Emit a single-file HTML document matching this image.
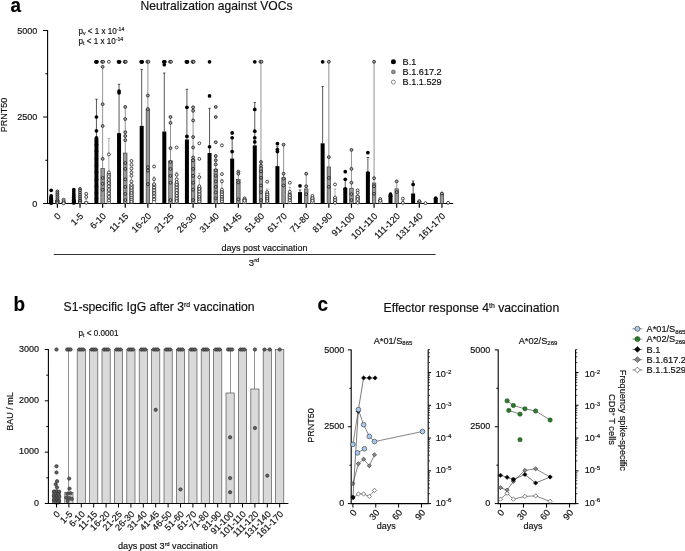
<!DOCTYPE html>
<html><head><meta charset="utf-8"><title>Figure</title>
<style>html,body{margin:0;padding:0;background:#fff;}body{width:685px;height:551px;position:relative;overflow:hidden;}svg text{stroke:#111;stroke-width:0.18px;}</style>
</head><body>
<svg width="685" height="551" viewBox="0 0 685 551" style="position:absolute;left:0;top:0" font-family='"Liberation Sans", sans-serif' fill="#111">
<rect x="0" y="0" width="685" height="551" fill="#fff"/>
<text transform="translate(10.6,11.7) scale(0.9,1)" font-size="21" font-weight="bold" fill="#000" id="la">a</text>
<text x="216.5" y="10.4" font-size="12.1" text-anchor="middle" id="ta">Neutralization against VOCs</text>
<text transform="translate(78.5,33.8) scale(0.93,1)" font-size="8.7" id="pv">p<tspan font-size="5.6" dy="1.5">v</tspan><tspan dy="-1.5"> &lt; 1 x 10</tspan><tspan font-size="5.6" dy="-2.8">-14</tspan></text>
<text transform="translate(78.5,43.9) scale(0.93,1)" font-size="8.7" id="pt">p<tspan font-size="5.6" dy="1.5">t</tspan><tspan dy="-1.5"> &lt; 1 x 10</tspan><tspan font-size="5.6" dy="-2.8">-14</tspan></text>
<line x1="47.6" x2="47.6" y1="30.1" y2="204.0" stroke="#000" stroke-width="1.1"/>
<line x1="47.1" x2="453.2" y1="203.5" y2="203.5" stroke="#000" stroke-width="1.1"/>
<line x1="43.1" x2="47.6" y1="30.50" y2="30.50" stroke="#000" stroke-width="1"/>
<line x1="43.1" x2="47.6" y1="117.00" y2="117.00" stroke="#000" stroke-width="1"/>
<line x1="43.1" x2="47.6" y1="203.50" y2="203.50" stroke="#000" stroke-width="1"/>
<line x1="45.300000000000004" x2="47.6" y1="73.75" y2="73.75" stroke="#000" stroke-width="1"/>
<line x1="45.300000000000004" x2="47.6" y1="160.25" y2="160.25" stroke="#000" stroke-width="1"/>
<text x="37.2" y="34.20" font-size="9" text-anchor="end">5000</text>
<text x="37.2" y="120.20" font-size="9" text-anchor="end">2500</text>
<text x="37.2" y="206.70" font-size="9" text-anchor="end">0</text>
<text transform="translate(7.2,115.0) rotate(-90)" font-size="9" text-anchor="middle" id="ya">PRNT50</text>
<line x1="57.40" x2="57.40" y1="203.5" y2="207.8" stroke="#000" stroke-width="1.2"/>
<text transform="translate(61.30,216.70) rotate(-45)" font-size="9.1" text-anchor="end">0</text>
<line x1="80.02" x2="80.02" y1="203.5" y2="207.8" stroke="#000" stroke-width="1.2"/>
<text transform="translate(83.92,216.70) rotate(-45)" font-size="9.1" text-anchor="end">1-5</text>
<line x1="102.64" x2="102.64" y1="203.5" y2="207.8" stroke="#000" stroke-width="1.2"/>
<text transform="translate(106.54,216.70) rotate(-45)" font-size="9.1" text-anchor="end">6-10</text>
<line x1="125.26" x2="125.26" y1="203.5" y2="207.8" stroke="#000" stroke-width="1.2"/>
<text transform="translate(129.16,216.70) rotate(-45)" font-size="9.1" text-anchor="end">11-15</text>
<line x1="147.88" x2="147.88" y1="203.5" y2="207.8" stroke="#000" stroke-width="1.2"/>
<text transform="translate(151.78,216.70) rotate(-45)" font-size="9.1" text-anchor="end">16-20</text>
<line x1="170.50" x2="170.50" y1="203.5" y2="207.8" stroke="#000" stroke-width="1.2"/>
<text transform="translate(174.40,216.70) rotate(-45)" font-size="9.1" text-anchor="end">21-25</text>
<line x1="193.12" x2="193.12" y1="203.5" y2="207.8" stroke="#000" stroke-width="1.2"/>
<text transform="translate(197.02,216.70) rotate(-45)" font-size="9.1" text-anchor="end">26-30</text>
<line x1="215.74" x2="215.74" y1="203.5" y2="207.8" stroke="#000" stroke-width="1.2"/>
<text transform="translate(219.64,216.70) rotate(-45)" font-size="9.1" text-anchor="end">31-40</text>
<line x1="238.36" x2="238.36" y1="203.5" y2="207.8" stroke="#000" stroke-width="1.2"/>
<text transform="translate(242.26,216.70) rotate(-45)" font-size="9.1" text-anchor="end">41-45</text>
<line x1="260.98" x2="260.98" y1="203.5" y2="207.8" stroke="#000" stroke-width="1.2"/>
<text transform="translate(264.88,216.70) rotate(-45)" font-size="9.1" text-anchor="end">51-60</text>
<line x1="283.60" x2="283.60" y1="203.5" y2="207.8" stroke="#000" stroke-width="1.2"/>
<text transform="translate(287.50,216.70) rotate(-45)" font-size="9.1" text-anchor="end">61-70</text>
<line x1="306.22" x2="306.22" y1="203.5" y2="207.8" stroke="#000" stroke-width="1.2"/>
<text transform="translate(310.12,216.70) rotate(-45)" font-size="9.1" text-anchor="end">71-80</text>
<line x1="328.84" x2="328.84" y1="203.5" y2="207.8" stroke="#000" stroke-width="1.2"/>
<text transform="translate(332.74,216.70) rotate(-45)" font-size="9.1" text-anchor="end">81-90</text>
<line x1="351.46" x2="351.46" y1="203.5" y2="207.8" stroke="#000" stroke-width="1.2"/>
<text transform="translate(355.36,216.70) rotate(-45)" font-size="9.1" text-anchor="end">91-100</text>
<line x1="374.08" x2="374.08" y1="203.5" y2="207.8" stroke="#000" stroke-width="1.2"/>
<text transform="translate(377.98,216.70) rotate(-45)" font-size="9.1" text-anchor="end">101-110</text>
<line x1="396.70" x2="396.70" y1="203.5" y2="207.8" stroke="#000" stroke-width="1.2"/>
<text transform="translate(400.60,216.70) rotate(-45)" font-size="9.1" text-anchor="end">111-120</text>
<line x1="419.32" x2="419.32" y1="203.5" y2="207.8" stroke="#000" stroke-width="1.2"/>
<text transform="translate(423.22,216.70) rotate(-45)" font-size="9.1" text-anchor="end">131-140</text>
<line x1="441.94" x2="441.94" y1="203.5" y2="207.8" stroke="#000" stroke-width="1.2"/>
<text transform="translate(445.84,216.70) rotate(-45)" font-size="9.1" text-anchor="end">161-170</text>
<text x="264.5" y="250.6" font-size="9" text-anchor="middle" id="dpv">days post vaccination</text>
<line x1="53.8" x2="435.6" y1="254.5" y2="254.5" stroke="#1a1a1a" stroke-width="0.9"/>
<text x="248.8" y="265.7" font-size="9.6" id="third">3<tspan font-size="5.8" dy="-3.3">rd</tspan></text>
<line x1="51.20" x2="51.20" y1="199.00" y2="200.04" stroke="#111" stroke-width="0.7"/>
<line x1="50.00" x2="52.40" y1="199.00" y2="199.00" stroke="#111" stroke-width="0.7"/>
<rect x="49.20" y="200.04" width="4.0" height="3.46" fill="#000"/>
<circle cx="51.20" cy="190.35" r="1.85" fill="#000"/>
<circle cx="51.20" cy="195.89" r="1.85" fill="#000"/>
<circle cx="51.20" cy="197.27" r="1.85" fill="#000"/>
<circle cx="51.20" cy="198.31" r="1.85" fill="#000"/>
<circle cx="51.20" cy="199.35" r="1.85" fill="#000"/>
<circle cx="51.20" cy="200.39" r="1.85" fill="#000"/>
<circle cx="51.20" cy="201.42" r="1.85" fill="#000"/>
<circle cx="51.20" cy="202.46" r="1.85" fill="#000"/>
<circle cx="51.20" cy="203.15" r="1.85" fill="#000"/>
<line x1="57.40" x2="57.40" y1="198.31" y2="200.39" stroke="#666" stroke-width="0.7"/>
<line x1="56.20" x2="58.60" y1="198.31" y2="198.31" stroke="#666" stroke-width="0.7"/>
<rect x="55.65" y="200.64" width="3.5" height="2.86" fill="#9a9a9a" stroke="#2a2a2a" stroke-width="0.6"/>
<circle cx="57.40" cy="191.39" r="1.45" fill="#a6a6a6" stroke="#1a1a1a" stroke-width="0.8"/>
<circle cx="57.40" cy="193.12" r="1.45" fill="#a6a6a6" stroke="#1a1a1a" stroke-width="0.8"/>
<circle cx="57.40" cy="194.85" r="1.45" fill="#a6a6a6" stroke="#1a1a1a" stroke-width="0.8"/>
<circle cx="57.40" cy="196.58" r="1.45" fill="#a6a6a6" stroke="#1a1a1a" stroke-width="0.8"/>
<circle cx="57.40" cy="198.31" r="1.45" fill="#a6a6a6" stroke="#1a1a1a" stroke-width="0.8"/>
<circle cx="57.40" cy="200.04" r="1.45" fill="#a6a6a6" stroke="#1a1a1a" stroke-width="0.8"/>
<circle cx="57.40" cy="201.42" r="1.45" fill="#a6a6a6" stroke="#1a1a1a" stroke-width="0.8"/>
<circle cx="57.40" cy="202.81" r="1.45" fill="#a6a6a6" stroke="#1a1a1a" stroke-width="0.8"/>
<line x1="63.60" x2="63.60" y1="201.42" y2="202.12" stroke="#8a8a8a" stroke-width="0.7"/>
<line x1="62.40" x2="64.80" y1="201.42" y2="201.42" stroke="#8a8a8a" stroke-width="0.7"/>
<rect x="61.85" y="202.37" width="3.5" height="1.13" fill="#fff" stroke="#2a2a2a" stroke-width="0.6"/>
<circle cx="63.60" cy="199.69" r="1.45" fill="#fff" stroke="#1a1a1a" stroke-width="0.8"/>
<circle cx="63.60" cy="201.08" r="1.45" fill="#fff" stroke="#1a1a1a" stroke-width="0.8"/>
<circle cx="63.60" cy="202.46" r="1.45" fill="#fff" stroke="#1a1a1a" stroke-width="0.8"/>
<circle cx="63.60" cy="203.33" r="1.45" fill="#fff" stroke="#1a1a1a" stroke-width="0.8"/>
<line x1="73.82" x2="73.82" y1="197.27" y2="199.35" stroke="#111" stroke-width="0.7"/>
<line x1="72.62" x2="75.02" y1="197.27" y2="197.27" stroke="#111" stroke-width="0.7"/>
<rect x="71.82" y="199.35" width="4.0" height="4.15" fill="#000"/>
<circle cx="73.82" cy="189.66" r="1.85" fill="#000"/>
<circle cx="73.82" cy="191.74" r="1.85" fill="#000"/>
<circle cx="73.82" cy="193.81" r="1.85" fill="#000"/>
<circle cx="73.82" cy="195.54" r="1.85" fill="#000"/>
<circle cx="73.82" cy="197.27" r="1.85" fill="#000"/>
<circle cx="73.82" cy="199.00" r="1.85" fill="#000"/>
<circle cx="73.82" cy="200.39" r="1.85" fill="#000"/>
<circle cx="73.82" cy="201.77" r="1.85" fill="#000"/>
<circle cx="73.82" cy="202.98" r="1.85" fill="#000"/>
<line x1="80.02" x2="80.02" y1="196.58" y2="200.04" stroke="#666" stroke-width="0.7"/>
<line x1="78.82" x2="81.22" y1="196.58" y2="196.58" stroke="#666" stroke-width="0.7"/>
<rect x="78.27" y="200.29" width="3.5" height="3.21" fill="#9a9a9a" stroke="#2a2a2a" stroke-width="0.6"/>
<circle cx="80.02" cy="188.97" r="1.45" fill="#a6a6a6" stroke="#1a1a1a" stroke-width="0.8"/>
<circle cx="80.02" cy="190.70" r="1.45" fill="#a6a6a6" stroke="#1a1a1a" stroke-width="0.8"/>
<circle cx="80.02" cy="192.77" r="1.45" fill="#a6a6a6" stroke="#1a1a1a" stroke-width="0.8"/>
<circle cx="80.02" cy="194.85" r="1.45" fill="#a6a6a6" stroke="#1a1a1a" stroke-width="0.8"/>
<circle cx="80.02" cy="196.93" r="1.45" fill="#a6a6a6" stroke="#1a1a1a" stroke-width="0.8"/>
<circle cx="80.02" cy="199.00" r="1.45" fill="#a6a6a6" stroke="#1a1a1a" stroke-width="0.8"/>
<circle cx="80.02" cy="200.73" r="1.45" fill="#a6a6a6" stroke="#1a1a1a" stroke-width="0.8"/>
<circle cx="80.02" cy="202.46" r="1.45" fill="#a6a6a6" stroke="#1a1a1a" stroke-width="0.8"/>
<line x1="86.22" x2="86.22" y1="199.35" y2="201.77" stroke="#8a8a8a" stroke-width="0.7"/>
<line x1="85.02" x2="87.42" y1="199.35" y2="199.35" stroke="#8a8a8a" stroke-width="0.7"/>
<rect x="84.47" y="202.02" width="3.5" height="1.48" fill="#fff" stroke="#2a2a2a" stroke-width="0.6"/>
<circle cx="86.22" cy="193.81" r="1.45" fill="#fff" stroke="#1a1a1a" stroke-width="0.8"/>
<circle cx="86.22" cy="196.93" r="1.45" fill="#fff" stroke="#1a1a1a" stroke-width="0.8"/>
<circle cx="86.22" cy="202.81" r="1.45" fill="#fff" stroke="#1a1a1a" stroke-width="0.8"/>
<line x1="96.44" x2="96.44" y1="99.18" y2="138.31" stroke="#111" stroke-width="0.7"/>
<line x1="95.24" x2="97.64" y1="99.18" y2="99.18" stroke="#111" stroke-width="0.7"/>
<rect x="94.44" y="138.31" width="4.0" height="65.19" fill="#000"/>
<circle cx="95.89" cy="61.78" r="1.85" fill="#000"/>
<circle cx="96.44" cy="61.78" r="1.85" fill="#000"/>
<circle cx="96.99" cy="61.78" r="1.85" fill="#000"/>
<circle cx="96.44" cy="117.00" r="1.85" fill="#000"/>
<circle cx="96.44" cy="130.84" r="1.85" fill="#000"/>
<circle cx="96.44" cy="137.76" r="1.85" fill="#000"/>
<circle cx="96.44" cy="144.68" r="1.85" fill="#000"/>
<circle cx="96.44" cy="151.60" r="1.85" fill="#000"/>
<circle cx="96.44" cy="158.52" r="1.85" fill="#000"/>
<circle cx="96.44" cy="165.44" r="1.85" fill="#000"/>
<circle cx="96.44" cy="172.36" r="1.85" fill="#000"/>
<circle cx="96.44" cy="179.28" r="1.85" fill="#000"/>
<circle cx="96.44" cy="186.20" r="1.85" fill="#000"/>
<circle cx="96.44" cy="193.12" r="1.85" fill="#000"/>
<circle cx="96.44" cy="198.31" r="1.85" fill="#000"/>
<line x1="102.64" x2="102.64" y1="66.83" y2="168.42" stroke="#666" stroke-width="0.7"/>
<line x1="101.44" x2="103.84" y1="66.83" y2="66.83" stroke="#666" stroke-width="0.7"/>
<rect x="100.89" y="168.67" width="3.5" height="34.83" fill="#9a9a9a" stroke="#2a2a2a" stroke-width="0.6"/>
<circle cx="102.09" cy="61.78" r="1.45" fill="#a6a6a6" stroke="#1a1a1a" stroke-width="0.8"/>
<circle cx="103.19" cy="61.78" r="1.45" fill="#a6a6a6" stroke="#1a1a1a" stroke-width="0.8"/>
<circle cx="102.64" cy="66.83" r="1.45" fill="#a6a6a6" stroke="#1a1a1a" stroke-width="0.8"/>
<circle cx="102.64" cy="104.20" r="1.45" fill="#a6a6a6" stroke="#1a1a1a" stroke-width="0.8"/>
<circle cx="102.64" cy="126.00" r="1.45" fill="#a6a6a6" stroke="#1a1a1a" stroke-width="0.8"/>
<circle cx="102.64" cy="158.87" r="1.45" fill="#a6a6a6" stroke="#1a1a1a" stroke-width="0.8"/>
<circle cx="102.64" cy="177.90" r="1.45" fill="#a6a6a6" stroke="#1a1a1a" stroke-width="0.8"/>
<circle cx="102.64" cy="183.78" r="1.45" fill="#a6a6a6" stroke="#1a1a1a" stroke-width="0.8"/>
<circle cx="102.64" cy="189.66" r="1.45" fill="#a6a6a6" stroke="#1a1a1a" stroke-width="0.8"/>
<line x1="108.84" x2="108.84" y1="138.45" y2="173.40" stroke="#8a8a8a" stroke-width="0.7"/>
<line x1="107.64" x2="110.04" y1="138.45" y2="138.45" stroke="#8a8a8a" stroke-width="0.7"/>
<rect x="107.09" y="173.65" width="3.5" height="29.85" fill="#fff" stroke="#2a2a2a" stroke-width="0.6"/>
<circle cx="108.84" cy="61.78" r="1.45" fill="#fff" stroke="#1a1a1a" stroke-width="0.8"/>
<circle cx="108.84" cy="154.37" r="1.45" fill="#fff" stroke="#1a1a1a" stroke-width="0.8"/>
<circle cx="108.84" cy="172.36" r="1.45" fill="#fff" stroke="#1a1a1a" stroke-width="0.8"/>
<circle cx="108.84" cy="176.17" r="1.45" fill="#fff" stroke="#1a1a1a" stroke-width="0.8"/>
<circle cx="108.84" cy="179.97" r="1.45" fill="#fff" stroke="#1a1a1a" stroke-width="0.8"/>
<circle cx="108.84" cy="183.09" r="1.45" fill="#fff" stroke="#1a1a1a" stroke-width="0.8"/>
<circle cx="108.84" cy="186.20" r="1.45" fill="#fff" stroke="#1a1a1a" stroke-width="0.8"/>
<circle cx="108.84" cy="190.01" r="1.45" fill="#fff" stroke="#1a1a1a" stroke-width="0.8"/>
<circle cx="108.84" cy="193.47" r="1.45" fill="#fff" stroke="#1a1a1a" stroke-width="0.8"/>
<circle cx="108.84" cy="196.93" r="1.45" fill="#fff" stroke="#1a1a1a" stroke-width="0.8"/>
<circle cx="108.84" cy="200.39" r="1.45" fill="#fff" stroke="#1a1a1a" stroke-width="0.8"/>
<line x1="119.06" x2="119.06" y1="84.30" y2="133.30" stroke="#111" stroke-width="0.7"/>
<line x1="117.86" x2="120.26" y1="84.30" y2="84.30" stroke="#111" stroke-width="0.7"/>
<rect x="117.06" y="133.30" width="4.0" height="70.20" fill="#000"/>
<circle cx="118.51" cy="61.78" r="1.85" fill="#000"/>
<circle cx="119.06" cy="61.78" r="1.85" fill="#000"/>
<circle cx="119.61" cy="61.78" r="1.85" fill="#000"/>
<circle cx="119.06" cy="91.05" r="1.85" fill="#000"/>
<circle cx="119.06" cy="92.78" r="1.85" fill="#000"/>
<circle cx="119.06" cy="134.82" r="1.85" fill="#000"/>
<circle cx="119.06" cy="141.22" r="1.85" fill="#000"/>
<circle cx="119.06" cy="151.60" r="1.85" fill="#000"/>
<circle cx="119.06" cy="161.98" r="1.85" fill="#000"/>
<circle cx="119.06" cy="172.36" r="1.85" fill="#000"/>
<circle cx="119.06" cy="182.74" r="1.85" fill="#000"/>
<circle cx="119.06" cy="193.12" r="1.85" fill="#000"/>
<line x1="125.26" x2="125.26" y1="106.62" y2="152.78" stroke="#666" stroke-width="0.7"/>
<line x1="124.06" x2="126.46" y1="106.62" y2="106.62" stroke="#666" stroke-width="0.7"/>
<rect x="123.51" y="153.03" width="3.5" height="50.47" fill="#9a9a9a" stroke="#2a2a2a" stroke-width="0.6"/>
<circle cx="124.71" cy="61.78" r="1.45" fill="#a6a6a6" stroke="#1a1a1a" stroke-width="0.8"/>
<circle cx="125.26" cy="61.78" r="1.45" fill="#a6a6a6" stroke="#1a1a1a" stroke-width="0.8"/>
<circle cx="125.81" cy="61.78" r="1.45" fill="#a6a6a6" stroke="#1a1a1a" stroke-width="0.8"/>
<circle cx="125.26" cy="106.97" r="1.45" fill="#a6a6a6" stroke="#1a1a1a" stroke-width="0.8"/>
<circle cx="125.26" cy="119.08" r="1.45" fill="#a6a6a6" stroke="#1a1a1a" stroke-width="0.8"/>
<circle cx="125.26" cy="132.22" r="1.45" fill="#a6a6a6" stroke="#1a1a1a" stroke-width="0.8"/>
<circle cx="125.26" cy="136.03" r="1.45" fill="#a6a6a6" stroke="#1a1a1a" stroke-width="0.8"/>
<circle cx="125.26" cy="140.18" r="1.45" fill="#a6a6a6" stroke="#1a1a1a" stroke-width="0.8"/>
<circle cx="125.26" cy="163.02" r="1.45" fill="#a6a6a6" stroke="#1a1a1a" stroke-width="0.8"/>
<circle cx="125.26" cy="168.90" r="1.45" fill="#a6a6a6" stroke="#1a1a1a" stroke-width="0.8"/>
<circle cx="125.26" cy="179.28" r="1.45" fill="#a6a6a6" stroke="#1a1a1a" stroke-width="0.8"/>
<circle cx="125.26" cy="186.89" r="1.45" fill="#a6a6a6" stroke="#1a1a1a" stroke-width="0.8"/>
<circle cx="125.26" cy="193.81" r="1.45" fill="#a6a6a6" stroke="#1a1a1a" stroke-width="0.8"/>
<circle cx="125.26" cy="200.04" r="1.45" fill="#a6a6a6" stroke="#1a1a1a" stroke-width="0.8"/>
<line x1="131.46" x2="131.46" y1="168.90" y2="184.47" stroke="#8a8a8a" stroke-width="0.7"/>
<line x1="130.26" x2="132.66" y1="168.90" y2="168.90" stroke="#8a8a8a" stroke-width="0.7"/>
<rect x="129.71" y="184.72" width="3.5" height="18.78" fill="#fff" stroke="#2a2a2a" stroke-width="0.6"/>
<circle cx="131.46" cy="160.94" r="1.45" fill="#fff" stroke="#1a1a1a" stroke-width="0.8"/>
<circle cx="131.46" cy="164.75" r="1.45" fill="#fff" stroke="#1a1a1a" stroke-width="0.8"/>
<circle cx="131.46" cy="168.55" r="1.45" fill="#fff" stroke="#1a1a1a" stroke-width="0.8"/>
<circle cx="131.46" cy="172.36" r="1.45" fill="#fff" stroke="#1a1a1a" stroke-width="0.8"/>
<circle cx="131.46" cy="175.82" r="1.45" fill="#fff" stroke="#1a1a1a" stroke-width="0.8"/>
<circle cx="131.46" cy="181.36" r="1.45" fill="#fff" stroke="#1a1a1a" stroke-width="0.8"/>
<circle cx="131.46" cy="184.82" r="1.45" fill="#fff" stroke="#1a1a1a" stroke-width="0.8"/>
<circle cx="131.46" cy="187.93" r="1.45" fill="#fff" stroke="#1a1a1a" stroke-width="0.8"/>
<circle cx="131.46" cy="190.70" r="1.45" fill="#fff" stroke="#1a1a1a" stroke-width="0.8"/>
<circle cx="131.46" cy="193.12" r="1.45" fill="#fff" stroke="#1a1a1a" stroke-width="0.8"/>
<circle cx="131.46" cy="195.54" r="1.45" fill="#fff" stroke="#1a1a1a" stroke-width="0.8"/>
<circle cx="131.46" cy="197.62" r="1.45" fill="#fff" stroke="#1a1a1a" stroke-width="0.8"/>
<circle cx="131.46" cy="199.69" r="1.45" fill="#fff" stroke="#1a1a1a" stroke-width="0.8"/>
<circle cx="131.46" cy="201.77" r="1.45" fill="#fff" stroke="#1a1a1a" stroke-width="0.8"/>
<line x1="141.68" x2="141.68" y1="69.43" y2="125.89" stroke="#111" stroke-width="0.7"/>
<line x1="140.48" x2="142.88" y1="69.43" y2="69.43" stroke="#111" stroke-width="0.7"/>
<rect x="139.68" y="125.89" width="4.0" height="77.61" fill="#000"/>
<circle cx="141.13" cy="61.78" r="1.85" fill="#000"/>
<circle cx="141.68" cy="61.78" r="1.85" fill="#000"/>
<circle cx="142.23" cy="61.78" r="1.85" fill="#000"/>
<line x1="147.88" x2="147.88" y1="61.78" y2="109.22" stroke="#666" stroke-width="0.7"/>
<line x1="146.68" x2="149.08" y1="61.78" y2="61.78" stroke="#666" stroke-width="0.7"/>
<rect x="146.13" y="109.47" width="3.5" height="94.03" fill="#9a9a9a" stroke="#2a2a2a" stroke-width="0.6"/>
<circle cx="147.33" cy="61.78" r="1.45" fill="#a6a6a6" stroke="#1a1a1a" stroke-width="0.8"/>
<circle cx="148.43" cy="61.78" r="1.45" fill="#a6a6a6" stroke="#1a1a1a" stroke-width="0.8"/>
<circle cx="147.88" cy="95.55" r="1.45" fill="#a6a6a6" stroke="#1a1a1a" stroke-width="0.8"/>
<circle cx="147.88" cy="109.04" r="1.45" fill="#a6a6a6" stroke="#1a1a1a" stroke-width="0.8"/>
<circle cx="147.88" cy="167.17" r="1.45" fill="#a6a6a6" stroke="#1a1a1a" stroke-width="0.8"/>
<circle cx="147.88" cy="170.63" r="1.45" fill="#a6a6a6" stroke="#1a1a1a" stroke-width="0.8"/>
<circle cx="147.88" cy="184.12" r="1.45" fill="#a6a6a6" stroke="#1a1a1a" stroke-width="0.8"/>
<line x1="154.08" x2="154.08" y1="176.86" y2="184.47" stroke="#8a8a8a" stroke-width="0.7"/>
<line x1="152.88" x2="155.28" y1="176.86" y2="176.86" stroke="#8a8a8a" stroke-width="0.7"/>
<rect x="152.33" y="184.72" width="3.5" height="18.78" fill="#fff" stroke="#2a2a2a" stroke-width="0.6"/>
<circle cx="154.08" cy="166.48" r="1.45" fill="#fff" stroke="#1a1a1a" stroke-width="0.8"/>
<circle cx="154.08" cy="179.28" r="1.45" fill="#fff" stroke="#1a1a1a" stroke-width="0.8"/>
<circle cx="154.08" cy="184.12" r="1.45" fill="#fff" stroke="#1a1a1a" stroke-width="0.8"/>
<circle cx="154.08" cy="187.58" r="1.45" fill="#fff" stroke="#1a1a1a" stroke-width="0.8"/>
<circle cx="154.08" cy="190.35" r="1.45" fill="#fff" stroke="#1a1a1a" stroke-width="0.8"/>
<circle cx="154.08" cy="193.12" r="1.45" fill="#fff" stroke="#1a1a1a" stroke-width="0.8"/>
<circle cx="154.08" cy="196.23" r="1.45" fill="#fff" stroke="#1a1a1a" stroke-width="0.8"/>
<circle cx="154.08" cy="199.35" r="1.45" fill="#fff" stroke="#1a1a1a" stroke-width="0.8"/>
<line x1="164.30" x2="164.30" y1="73.06" y2="131.53" stroke="#111" stroke-width="0.7"/>
<line x1="163.10" x2="165.50" y1="73.06" y2="73.06" stroke="#111" stroke-width="0.7"/>
<rect x="162.30" y="131.53" width="4.0" height="71.97" fill="#000"/>
<circle cx="163.75" cy="61.78" r="1.85" fill="#000"/>
<circle cx="164.30" cy="61.78" r="1.85" fill="#000"/>
<circle cx="164.85" cy="61.78" r="1.85" fill="#000"/>
<circle cx="164.30" cy="64.75" r="1.85" fill="#000"/>
<line x1="170.50" x2="170.50" y1="117.00" y2="160.60" stroke="#666" stroke-width="0.7"/>
<line x1="169.30" x2="171.70" y1="117.00" y2="117.00" stroke="#666" stroke-width="0.7"/>
<rect x="168.75" y="160.85" width="3.5" height="42.65" fill="#9a9a9a" stroke="#2a2a2a" stroke-width="0.6"/>
<circle cx="169.95" cy="61.78" r="1.45" fill="#a6a6a6" stroke="#1a1a1a" stroke-width="0.8"/>
<circle cx="171.05" cy="61.78" r="1.45" fill="#a6a6a6" stroke="#1a1a1a" stroke-width="0.8"/>
<circle cx="170.50" cy="117.00" r="1.45" fill="#a6a6a6" stroke="#1a1a1a" stroke-width="0.8"/>
<circle cx="170.50" cy="122.88" r="1.45" fill="#a6a6a6" stroke="#1a1a1a" stroke-width="0.8"/>
<circle cx="170.50" cy="148.14" r="1.45" fill="#a6a6a6" stroke="#1a1a1a" stroke-width="0.8"/>
<circle cx="170.50" cy="161.98" r="1.45" fill="#a6a6a6" stroke="#1a1a1a" stroke-width="0.8"/>
<circle cx="170.50" cy="168.90" r="1.45" fill="#a6a6a6" stroke="#1a1a1a" stroke-width="0.8"/>
<circle cx="170.50" cy="175.82" r="1.45" fill="#a6a6a6" stroke="#1a1a1a" stroke-width="0.8"/>
<circle cx="170.50" cy="182.74" r="1.45" fill="#a6a6a6" stroke="#1a1a1a" stroke-width="0.8"/>
<circle cx="170.50" cy="200.04" r="1.45" fill="#a6a6a6" stroke="#1a1a1a" stroke-width="0.8"/>
<line x1="176.70" x2="176.70" y1="172.36" y2="182.74" stroke="#8a8a8a" stroke-width="0.7"/>
<line x1="175.50" x2="177.90" y1="172.36" y2="172.36" stroke="#8a8a8a" stroke-width="0.7"/>
<rect x="174.95" y="182.99" width="3.5" height="20.51" fill="#fff" stroke="#2a2a2a" stroke-width="0.6"/>
<circle cx="176.70" cy="147.45" r="1.45" fill="#fff" stroke="#1a1a1a" stroke-width="0.8"/>
<circle cx="176.70" cy="174.78" r="1.45" fill="#fff" stroke="#1a1a1a" stroke-width="0.8"/>
<circle cx="176.70" cy="179.28" r="1.45" fill="#fff" stroke="#1a1a1a" stroke-width="0.8"/>
<circle cx="176.70" cy="182.05" r="1.45" fill="#fff" stroke="#1a1a1a" stroke-width="0.8"/>
<circle cx="176.70" cy="184.82" r="1.45" fill="#fff" stroke="#1a1a1a" stroke-width="0.8"/>
<circle cx="176.70" cy="187.58" r="1.45" fill="#fff" stroke="#1a1a1a" stroke-width="0.8"/>
<circle cx="176.70" cy="190.35" r="1.45" fill="#fff" stroke="#1a1a1a" stroke-width="0.8"/>
<circle cx="176.70" cy="193.12" r="1.45" fill="#fff" stroke="#1a1a1a" stroke-width="0.8"/>
<circle cx="176.70" cy="195.89" r="1.45" fill="#fff" stroke="#1a1a1a" stroke-width="0.8"/>
<circle cx="176.70" cy="198.66" r="1.45" fill="#fff" stroke="#1a1a1a" stroke-width="0.8"/>
<circle cx="176.70" cy="201.08" r="1.45" fill="#fff" stroke="#1a1a1a" stroke-width="0.8"/>
<line x1="186.92" x2="186.92" y1="89.32" y2="139.49" stroke="#111" stroke-width="0.7"/>
<line x1="185.72" x2="188.12" y1="89.32" y2="89.32" stroke="#111" stroke-width="0.7"/>
<rect x="184.92" y="139.49" width="4.0" height="64.01" fill="#000"/>
<circle cx="186.37" cy="61.78" r="1.85" fill="#000"/>
<circle cx="186.92" cy="61.78" r="1.85" fill="#000"/>
<circle cx="187.47" cy="61.78" r="1.85" fill="#000"/>
<circle cx="186.92" cy="107.31" r="1.85" fill="#000"/>
<circle cx="186.92" cy="136.38" r="1.85" fill="#000"/>
<line x1="193.12" x2="193.12" y1="110.08" y2="159.38" stroke="#666" stroke-width="0.7"/>
<line x1="191.92" x2="194.32" y1="110.08" y2="110.08" stroke="#666" stroke-width="0.7"/>
<rect x="191.37" y="159.63" width="3.5" height="43.87" fill="#9a9a9a" stroke="#2a2a2a" stroke-width="0.6"/>
<circle cx="192.57" cy="61.78" r="1.45" fill="#a6a6a6" stroke="#1a1a1a" stroke-width="0.8"/>
<circle cx="193.12" cy="61.78" r="1.45" fill="#a6a6a6" stroke="#1a1a1a" stroke-width="0.8"/>
<circle cx="193.67" cy="61.78" r="1.45" fill="#a6a6a6" stroke="#1a1a1a" stroke-width="0.8"/>
<circle cx="193.12" cy="107.31" r="1.45" fill="#a6a6a6" stroke="#1a1a1a" stroke-width="0.8"/>
<circle cx="193.12" cy="110.77" r="1.45" fill="#a6a6a6" stroke="#1a1a1a" stroke-width="0.8"/>
<circle cx="193.12" cy="120.46" r="1.45" fill="#a6a6a6" stroke="#1a1a1a" stroke-width="0.8"/>
<circle cx="193.12" cy="137.07" r="1.45" fill="#a6a6a6" stroke="#1a1a1a" stroke-width="0.8"/>
<circle cx="193.12" cy="147.45" r="1.45" fill="#a6a6a6" stroke="#1a1a1a" stroke-width="0.8"/>
<circle cx="193.12" cy="157.48" r="1.45" fill="#a6a6a6" stroke="#1a1a1a" stroke-width="0.8"/>
<circle cx="193.12" cy="160.25" r="1.45" fill="#a6a6a6" stroke="#1a1a1a" stroke-width="0.8"/>
<circle cx="193.12" cy="168.90" r="1.45" fill="#a6a6a6" stroke="#1a1a1a" stroke-width="0.8"/>
<circle cx="193.12" cy="175.82" r="1.45" fill="#a6a6a6" stroke="#1a1a1a" stroke-width="0.8"/>
<circle cx="193.12" cy="182.74" r="1.45" fill="#a6a6a6" stroke="#1a1a1a" stroke-width="0.8"/>
<circle cx="193.12" cy="189.66" r="1.45" fill="#a6a6a6" stroke="#1a1a1a" stroke-width="0.8"/>
<circle cx="193.12" cy="200.04" r="1.45" fill="#a6a6a6" stroke="#1a1a1a" stroke-width="0.8"/>
<line x1="199.32" x2="199.32" y1="173.40" y2="186.89" stroke="#8a8a8a" stroke-width="0.7"/>
<line x1="198.12" x2="200.52" y1="173.40" y2="173.40" stroke="#8a8a8a" stroke-width="0.7"/>
<rect x="197.57" y="187.14" width="3.5" height="16.36" fill="#fff" stroke="#2a2a2a" stroke-width="0.6"/>
<circle cx="199.32" cy="143.30" r="1.45" fill="#fff" stroke="#1a1a1a" stroke-width="0.8"/>
<circle cx="199.32" cy="158.87" r="1.45" fill="#fff" stroke="#1a1a1a" stroke-width="0.8"/>
<circle cx="199.32" cy="177.20" r="1.45" fill="#fff" stroke="#1a1a1a" stroke-width="0.8"/>
<circle cx="199.32" cy="186.20" r="1.45" fill="#fff" stroke="#1a1a1a" stroke-width="0.8"/>
<circle cx="199.32" cy="188.97" r="1.45" fill="#fff" stroke="#1a1a1a" stroke-width="0.8"/>
<circle cx="199.32" cy="191.74" r="1.45" fill="#fff" stroke="#1a1a1a" stroke-width="0.8"/>
<circle cx="199.32" cy="194.50" r="1.45" fill="#fff" stroke="#1a1a1a" stroke-width="0.8"/>
<circle cx="199.32" cy="196.93" r="1.45" fill="#fff" stroke="#1a1a1a" stroke-width="0.8"/>
<circle cx="199.32" cy="199.35" r="1.45" fill="#fff" stroke="#1a1a1a" stroke-width="0.8"/>
<circle cx="199.32" cy="201.42" r="1.45" fill="#fff" stroke="#1a1a1a" stroke-width="0.8"/>
<line x1="209.54" x2="209.54" y1="108.35" y2="152.98" stroke="#111" stroke-width="0.7"/>
<line x1="208.34" x2="210.74" y1="108.35" y2="108.35" stroke="#111" stroke-width="0.7"/>
<rect x="207.54" y="152.98" width="4.0" height="50.52" fill="#000"/>
<circle cx="209.54" cy="61.78" r="1.85" fill="#000"/>
<circle cx="209.54" cy="95.89" r="1.85" fill="#000"/>
<circle cx="209.54" cy="146.76" r="1.85" fill="#000"/>
<line x1="215.74" x2="215.74" y1="155.06" y2="168.90" stroke="#666" stroke-width="0.7"/>
<line x1="214.54" x2="216.94" y1="155.06" y2="155.06" stroke="#666" stroke-width="0.7"/>
<rect x="213.99" y="169.15" width="3.5" height="34.35" fill="#9a9a9a" stroke="#2a2a2a" stroke-width="0.6"/>
<circle cx="215.74" cy="106.97" r="1.45" fill="#a6a6a6" stroke="#1a1a1a" stroke-width="0.8"/>
<circle cx="215.74" cy="117.00" r="1.45" fill="#a6a6a6" stroke="#1a1a1a" stroke-width="0.8"/>
<circle cx="215.74" cy="142.26" r="1.45" fill="#a6a6a6" stroke="#1a1a1a" stroke-width="0.8"/>
<circle cx="215.74" cy="156.10" r="1.45" fill="#a6a6a6" stroke="#1a1a1a" stroke-width="0.8"/>
<circle cx="215.74" cy="160.25" r="1.45" fill="#a6a6a6" stroke="#1a1a1a" stroke-width="0.8"/>
<circle cx="215.74" cy="164.40" r="1.45" fill="#a6a6a6" stroke="#1a1a1a" stroke-width="0.8"/>
<circle cx="215.74" cy="170.28" r="1.45" fill="#a6a6a6" stroke="#1a1a1a" stroke-width="0.8"/>
<circle cx="215.74" cy="175.82" r="1.45" fill="#a6a6a6" stroke="#1a1a1a" stroke-width="0.8"/>
<circle cx="215.74" cy="181.36" r="1.45" fill="#a6a6a6" stroke="#1a1a1a" stroke-width="0.8"/>
<circle cx="215.74" cy="186.89" r="1.45" fill="#a6a6a6" stroke="#1a1a1a" stroke-width="0.8"/>
<circle cx="215.74" cy="192.43" r="1.45" fill="#a6a6a6" stroke="#1a1a1a" stroke-width="0.8"/>
<circle cx="215.74" cy="198.31" r="1.45" fill="#a6a6a6" stroke="#1a1a1a" stroke-width="0.8"/>
<line x1="221.94" x2="221.94" y1="179.28" y2="190.70" stroke="#8a8a8a" stroke-width="0.7"/>
<line x1="220.74" x2="223.14" y1="179.28" y2="179.28" stroke="#8a8a8a" stroke-width="0.7"/>
<rect x="220.19" y="190.95" width="3.5" height="12.55" fill="#fff" stroke="#2a2a2a" stroke-width="0.6"/>
<circle cx="221.94" cy="145.37" r="1.45" fill="#fff" stroke="#1a1a1a" stroke-width="0.8"/>
<circle cx="221.94" cy="174.09" r="1.45" fill="#fff" stroke="#1a1a1a" stroke-width="0.8"/>
<circle cx="221.94" cy="181.36" r="1.45" fill="#fff" stroke="#1a1a1a" stroke-width="0.8"/>
<circle cx="221.94" cy="189.66" r="1.45" fill="#fff" stroke="#1a1a1a" stroke-width="0.8"/>
<circle cx="221.94" cy="192.08" r="1.45" fill="#fff" stroke="#1a1a1a" stroke-width="0.8"/>
<circle cx="221.94" cy="194.50" r="1.45" fill="#fff" stroke="#1a1a1a" stroke-width="0.8"/>
<circle cx="221.94" cy="196.93" r="1.45" fill="#fff" stroke="#1a1a1a" stroke-width="0.8"/>
<circle cx="221.94" cy="199.35" r="1.45" fill="#fff" stroke="#1a1a1a" stroke-width="0.8"/>
<circle cx="221.94" cy="201.42" r="1.45" fill="#fff" stroke="#1a1a1a" stroke-width="0.8"/>
<line x1="232.16" x2="232.16" y1="137.76" y2="158.52" stroke="#111" stroke-width="0.7"/>
<line x1="230.96" x2="233.36" y1="137.76" y2="137.76" stroke="#111" stroke-width="0.7"/>
<rect x="230.16" y="158.52" width="4.0" height="44.98" fill="#000"/>
<circle cx="232.16" cy="132.92" r="1.85" fill="#000"/>
<circle cx="232.16" cy="137.76" r="1.85" fill="#000"/>
<circle cx="232.16" cy="151.60" r="1.85" fill="#000"/>
<line x1="238.36" x2="238.36" y1="172.36" y2="179.28" stroke="#666" stroke-width="0.7"/>
<line x1="237.16" x2="239.56" y1="172.36" y2="172.36" stroke="#666" stroke-width="0.7"/>
<rect x="236.61" y="179.53" width="3.5" height="23.97" fill="#9a9a9a" stroke="#2a2a2a" stroke-width="0.6"/>
<circle cx="238.36" cy="171.67" r="1.45" fill="#a6a6a6" stroke="#1a1a1a" stroke-width="0.8"/>
<circle cx="238.36" cy="173.74" r="1.45" fill="#a6a6a6" stroke="#1a1a1a" stroke-width="0.8"/>
<circle cx="238.36" cy="182.39" r="1.45" fill="#a6a6a6" stroke="#1a1a1a" stroke-width="0.8"/>
<circle cx="238.36" cy="199.35" r="1.45" fill="#a6a6a6" stroke="#1a1a1a" stroke-width="0.8"/>
<line x1="244.56" x2="244.56" y1="197.62" y2="199.00" stroke="#8a8a8a" stroke-width="0.7"/>
<line x1="243.36" x2="245.76" y1="197.62" y2="197.62" stroke="#8a8a8a" stroke-width="0.7"/>
<rect x="242.81" y="199.25" width="3.5" height="4.25" fill="#fff" stroke="#2a2a2a" stroke-width="0.6"/>
<circle cx="244.56" cy="198.31" r="1.45" fill="#fff" stroke="#1a1a1a" stroke-width="0.8"/>
<circle cx="244.56" cy="199.69" r="1.45" fill="#fff" stroke="#1a1a1a" stroke-width="0.8"/>
<circle cx="244.56" cy="200.73" r="1.45" fill="#fff" stroke="#1a1a1a" stroke-width="0.8"/>
<line x1="254.78" x2="254.78" y1="102.47" y2="145.37" stroke="#111" stroke-width="0.7"/>
<line x1="253.58" x2="255.98" y1="102.47" y2="102.47" stroke="#111" stroke-width="0.7"/>
<rect x="252.78" y="145.37" width="4.0" height="58.13" fill="#000"/>
<circle cx="254.78" cy="61.78" r="1.85" fill="#000"/>
<circle cx="254.78" cy="109.39" r="1.85" fill="#000"/>
<circle cx="254.78" cy="131.19" r="1.85" fill="#000"/>
<circle cx="254.78" cy="137.76" r="1.85" fill="#000"/>
<circle cx="254.78" cy="141.91" r="1.85" fill="#000"/>
<line x1="260.98" x2="260.98" y1="61.78" y2="166.82" stroke="#666" stroke-width="0.7"/>
<line x1="259.78" x2="262.18" y1="61.78" y2="61.78" stroke="#666" stroke-width="0.7"/>
<rect x="259.23" y="167.07" width="3.5" height="36.43" fill="#9a9a9a" stroke="#2a2a2a" stroke-width="0.6"/>
<circle cx="260.43" cy="61.78" r="1.45" fill="#a6a6a6" stroke="#1a1a1a" stroke-width="0.8"/>
<circle cx="261.53" cy="61.78" r="1.45" fill="#a6a6a6" stroke="#1a1a1a" stroke-width="0.8"/>
<circle cx="260.98" cy="161.98" r="1.45" fill="#a6a6a6" stroke="#1a1a1a" stroke-width="0.8"/>
<circle cx="260.98" cy="165.44" r="1.45" fill="#a6a6a6" stroke="#1a1a1a" stroke-width="0.8"/>
<circle cx="260.98" cy="171.32" r="1.45" fill="#a6a6a6" stroke="#1a1a1a" stroke-width="0.8"/>
<circle cx="260.98" cy="177.90" r="1.45" fill="#a6a6a6" stroke="#1a1a1a" stroke-width="0.8"/>
<circle cx="260.98" cy="185.51" r="1.45" fill="#a6a6a6" stroke="#1a1a1a" stroke-width="0.8"/>
<circle cx="260.98" cy="192.08" r="1.45" fill="#a6a6a6" stroke="#1a1a1a" stroke-width="0.8"/>
<circle cx="260.98" cy="200.04" r="1.45" fill="#a6a6a6" stroke="#1a1a1a" stroke-width="0.8"/>
<line x1="267.18" x2="267.18" y1="188.97" y2="193.12" stroke="#8a8a8a" stroke-width="0.7"/>
<line x1="265.98" x2="268.38" y1="188.97" y2="188.97" stroke="#8a8a8a" stroke-width="0.7"/>
<rect x="265.43" y="193.37" width="3.5" height="10.13" fill="#fff" stroke="#2a2a2a" stroke-width="0.6"/>
<circle cx="267.18" cy="181.70" r="1.45" fill="#fff" stroke="#1a1a1a" stroke-width="0.8"/>
<circle cx="267.18" cy="192.08" r="1.45" fill="#fff" stroke="#1a1a1a" stroke-width="0.8"/>
<circle cx="267.18" cy="194.50" r="1.45" fill="#fff" stroke="#1a1a1a" stroke-width="0.8"/>
<circle cx="267.18" cy="196.93" r="1.45" fill="#fff" stroke="#1a1a1a" stroke-width="0.8"/>
<circle cx="267.18" cy="199.00" r="1.45" fill="#fff" stroke="#1a1a1a" stroke-width="0.8"/>
<circle cx="267.18" cy="201.08" r="1.45" fill="#fff" stroke="#1a1a1a" stroke-width="0.8"/>
<line x1="277.40" x2="277.40" y1="146.76" y2="166.13" stroke="#111" stroke-width="0.7"/>
<line x1="276.20" x2="278.60" y1="146.76" y2="146.76" stroke="#111" stroke-width="0.7"/>
<rect x="275.40" y="166.13" width="4.0" height="37.37" fill="#000"/>
<circle cx="277.40" cy="143.64" r="1.85" fill="#000"/>
<circle cx="277.40" cy="149.52" r="1.85" fill="#000"/>
<circle cx="277.40" cy="151.60" r="1.85" fill="#000"/>
<line x1="283.60" x2="283.60" y1="144.68" y2="177.55" stroke="#666" stroke-width="0.7"/>
<line x1="282.40" x2="284.80" y1="144.68" y2="144.68" stroke="#666" stroke-width="0.7"/>
<rect x="281.85" y="177.80" width="3.5" height="25.70" fill="#9a9a9a" stroke="#2a2a2a" stroke-width="0.6"/>
<circle cx="283.60" cy="144.68" r="1.45" fill="#a6a6a6" stroke="#1a1a1a" stroke-width="0.8"/>
<circle cx="283.60" cy="173.74" r="1.45" fill="#a6a6a6" stroke="#1a1a1a" stroke-width="0.8"/>
<circle cx="283.60" cy="178.59" r="1.45" fill="#a6a6a6" stroke="#1a1a1a" stroke-width="0.8"/>
<circle cx="283.60" cy="185.51" r="1.45" fill="#a6a6a6" stroke="#1a1a1a" stroke-width="0.8"/>
<line x1="289.80" x2="289.80" y1="187.24" y2="193.12" stroke="#8a8a8a" stroke-width="0.7"/>
<line x1="288.60" x2="291.00" y1="187.24" y2="187.24" stroke="#8a8a8a" stroke-width="0.7"/>
<rect x="288.05" y="193.37" width="3.5" height="10.13" fill="#fff" stroke="#2a2a2a" stroke-width="0.6"/>
<circle cx="289.80" cy="182.74" r="1.45" fill="#fff" stroke="#1a1a1a" stroke-width="0.8"/>
<circle cx="289.80" cy="191.74" r="1.45" fill="#fff" stroke="#1a1a1a" stroke-width="0.8"/>
<circle cx="289.80" cy="195.20" r="1.45" fill="#fff" stroke="#1a1a1a" stroke-width="0.8"/>
<circle cx="289.80" cy="197.62" r="1.45" fill="#fff" stroke="#1a1a1a" stroke-width="0.8"/>
<circle cx="289.80" cy="200.39" r="1.45" fill="#fff" stroke="#1a1a1a" stroke-width="0.8"/>
<line x1="300.02" x2="300.02" y1="190.01" y2="192.08" stroke="#111" stroke-width="0.7"/>
<line x1="298.82" x2="301.22" y1="190.01" y2="190.01" stroke="#111" stroke-width="0.7"/>
<rect x="298.02" y="192.08" width="4.0" height="11.42" fill="#000"/>
<circle cx="300.02" cy="185.85" r="1.85" fill="#000"/>
<line x1="306.22" x2="306.22" y1="174.09" y2="188.62" stroke="#666" stroke-width="0.7"/>
<line x1="305.02" x2="307.42" y1="174.09" y2="174.09" stroke="#666" stroke-width="0.7"/>
<rect x="304.47" y="188.87" width="3.5" height="14.63" fill="#9a9a9a" stroke="#2a2a2a" stroke-width="0.6"/>
<circle cx="306.22" cy="173.74" r="1.45" fill="#a6a6a6" stroke="#1a1a1a" stroke-width="0.8"/>
<circle cx="306.22" cy="186.20" r="1.45" fill="#a6a6a6" stroke="#1a1a1a" stroke-width="0.8"/>
<circle cx="306.22" cy="194.16" r="1.45" fill="#a6a6a6" stroke="#1a1a1a" stroke-width="0.8"/>
<line x1="312.42" x2="312.42" y1="195.54" y2="197.62" stroke="#8a8a8a" stroke-width="0.7"/>
<line x1="311.22" x2="313.62" y1="195.54" y2="195.54" stroke="#8a8a8a" stroke-width="0.7"/>
<rect x="310.67" y="197.87" width="3.5" height="5.63" fill="#fff" stroke="#2a2a2a" stroke-width="0.6"/>
<circle cx="312.42" cy="195.89" r="1.45" fill="#fff" stroke="#1a1a1a" stroke-width="0.8"/>
<circle cx="312.42" cy="198.31" r="1.45" fill="#fff" stroke="#1a1a1a" stroke-width="0.8"/>
<circle cx="312.42" cy="200.73" r="1.45" fill="#fff" stroke="#1a1a1a" stroke-width="0.8"/>
<line x1="322.64" x2="322.64" y1="86.55" y2="143.30" stroke="#111" stroke-width="0.7"/>
<line x1="321.44" x2="323.84" y1="86.55" y2="86.55" stroke="#111" stroke-width="0.7"/>
<rect x="320.64" y="143.30" width="4.0" height="60.20" fill="#000"/>
<circle cx="322.64" cy="61.78" r="1.85" fill="#000"/>
<line x1="328.84" x2="328.84" y1="61.78" y2="166.65" stroke="#666" stroke-width="0.7"/>
<line x1="327.64" x2="330.04" y1="61.78" y2="61.78" stroke="#666" stroke-width="0.7"/>
<rect x="327.09" y="166.90" width="3.5" height="36.60" fill="#9a9a9a" stroke="#2a2a2a" stroke-width="0.6"/>
<circle cx="328.84" cy="61.78" r="1.45" fill="#a6a6a6" stroke="#1a1a1a" stroke-width="0.8"/>
<circle cx="328.84" cy="157.14" r="1.45" fill="#a6a6a6" stroke="#1a1a1a" stroke-width="0.8"/>
<circle cx="328.84" cy="177.90" r="1.45" fill="#a6a6a6" stroke="#1a1a1a" stroke-width="0.8"/>
<circle cx="328.84" cy="186.89" r="1.45" fill="#a6a6a6" stroke="#1a1a1a" stroke-width="0.8"/>
<line x1="335.04" x2="335.04" y1="188.97" y2="197.27" stroke="#8a8a8a" stroke-width="0.7"/>
<line x1="333.84" x2="336.24" y1="188.97" y2="188.97" stroke="#8a8a8a" stroke-width="0.7"/>
<rect x="333.29" y="197.52" width="3.5" height="5.98" fill="#fff" stroke="#2a2a2a" stroke-width="0.6"/>
<circle cx="335.04" cy="184.47" r="1.45" fill="#fff" stroke="#1a1a1a" stroke-width="0.8"/>
<circle cx="335.04" cy="197.62" r="1.45" fill="#fff" stroke="#1a1a1a" stroke-width="0.8"/>
<circle cx="335.04" cy="200.04" r="1.45" fill="#fff" stroke="#1a1a1a" stroke-width="0.8"/>
<circle cx="335.04" cy="202.81" r="1.45" fill="#fff" stroke="#1a1a1a" stroke-width="0.8"/>
<line x1="345.26" x2="345.26" y1="179.97" y2="187.93" stroke="#111" stroke-width="0.7"/>
<line x1="344.06" x2="346.46" y1="179.97" y2="179.97" stroke="#111" stroke-width="0.7"/>
<rect x="343.26" y="187.93" width="4.0" height="15.57" fill="#000"/>
<circle cx="345.26" cy="171.67" r="1.85" fill="#000"/>
<circle cx="345.26" cy="179.28" r="1.85" fill="#000"/>
<circle cx="345.26" cy="188.97" r="1.85" fill="#000"/>
<line x1="351.46" x2="351.46" y1="149.87" y2="187.93" stroke="#666" stroke-width="0.7"/>
<line x1="350.26" x2="352.66" y1="149.87" y2="149.87" stroke="#666" stroke-width="0.7"/>
<rect x="349.71" y="188.18" width="3.5" height="15.32" fill="#9a9a9a" stroke="#2a2a2a" stroke-width="0.6"/>
<circle cx="351.46" cy="149.87" r="1.45" fill="#a6a6a6" stroke="#1a1a1a" stroke-width="0.8"/>
<circle cx="351.46" cy="168.90" r="1.45" fill="#a6a6a6" stroke="#1a1a1a" stroke-width="0.8"/>
<circle cx="351.46" cy="182.74" r="1.45" fill="#a6a6a6" stroke="#1a1a1a" stroke-width="0.8"/>
<circle cx="351.46" cy="194.16" r="1.45" fill="#a6a6a6" stroke="#1a1a1a" stroke-width="0.8"/>
<circle cx="351.46" cy="200.04" r="1.45" fill="#a6a6a6" stroke="#1a1a1a" stroke-width="0.8"/>
<line x1="357.66" x2="357.66" y1="190.35" y2="195.54" stroke="#8a8a8a" stroke-width="0.7"/>
<line x1="356.46" x2="358.86" y1="190.35" y2="190.35" stroke="#8a8a8a" stroke-width="0.7"/>
<rect x="355.91" y="195.79" width="3.5" height="7.71" fill="#fff" stroke="#2a2a2a" stroke-width="0.6"/>
<circle cx="357.66" cy="190.35" r="1.45" fill="#fff" stroke="#1a1a1a" stroke-width="0.8"/>
<circle cx="357.66" cy="192.77" r="1.45" fill="#fff" stroke="#1a1a1a" stroke-width="0.8"/>
<circle cx="357.66" cy="196.58" r="1.45" fill="#fff" stroke="#1a1a1a" stroke-width="0.8"/>
<circle cx="357.66" cy="199.00" r="1.45" fill="#fff" stroke="#1a1a1a" stroke-width="0.8"/>
<circle cx="357.66" cy="202.81" r="1.45" fill="#fff" stroke="#1a1a1a" stroke-width="0.8"/>
<line x1="367.88" x2="367.88" y1="157.48" y2="171.84" stroke="#111" stroke-width="0.7"/>
<line x1="366.68" x2="369.08" y1="157.48" y2="157.48" stroke="#111" stroke-width="0.7"/>
<rect x="365.88" y="171.84" width="4.0" height="31.66" fill="#000"/>
<circle cx="367.88" cy="152.64" r="1.85" fill="#000"/>
<circle cx="367.88" cy="173.05" r="1.85" fill="#000"/>
<circle cx="367.88" cy="176.51" r="1.85" fill="#000"/>
<line x1="374.08" x2="374.08" y1="61.78" y2="182.74" stroke="#666" stroke-width="0.7"/>
<line x1="372.88" x2="375.28" y1="61.78" y2="61.78" stroke="#666" stroke-width="0.7"/>
<rect x="372.33" y="182.99" width="3.5" height="20.51" fill="#9a9a9a" stroke="#2a2a2a" stroke-width="0.6"/>
<circle cx="374.08" cy="61.78" r="1.45" fill="#a6a6a6" stroke="#1a1a1a" stroke-width="0.8"/>
<circle cx="374.08" cy="178.24" r="1.45" fill="#a6a6a6" stroke="#1a1a1a" stroke-width="0.8"/>
<circle cx="374.08" cy="186.20" r="1.45" fill="#a6a6a6" stroke="#1a1a1a" stroke-width="0.8"/>
<circle cx="374.08" cy="193.81" r="1.45" fill="#a6a6a6" stroke="#1a1a1a" stroke-width="0.8"/>
<line x1="380.28" x2="380.28" y1="198.66" y2="200.04" stroke="#8a8a8a" stroke-width="0.7"/>
<line x1="379.08" x2="381.48" y1="198.66" y2="198.66" stroke="#8a8a8a" stroke-width="0.7"/>
<rect x="378.53" y="200.29" width="3.5" height="3.21" fill="#fff" stroke="#2a2a2a" stroke-width="0.6"/>
<circle cx="380.28" cy="199.00" r="1.45" fill="#fff" stroke="#1a1a1a" stroke-width="0.8"/>
<circle cx="380.28" cy="200.73" r="1.45" fill="#fff" stroke="#1a1a1a" stroke-width="0.8"/>
<line x1="390.50" x2="390.50" y1="193.47" y2="194.85" stroke="#111" stroke-width="0.7"/>
<line x1="389.30" x2="391.70" y1="193.47" y2="193.47" stroke="#111" stroke-width="0.7"/>
<rect x="388.50" y="194.85" width="4.0" height="8.65" fill="#000"/>
<circle cx="390.50" cy="194.16" r="1.85" fill="#000"/>
<circle cx="390.50" cy="196.23" r="1.85" fill="#000"/>
<line x1="396.70" x2="396.70" y1="181.36" y2="188.62" stroke="#666" stroke-width="0.7"/>
<line x1="395.50" x2="397.90" y1="181.36" y2="181.36" stroke="#666" stroke-width="0.7"/>
<rect x="394.95" y="188.87" width="3.5" height="14.63" fill="#9a9a9a" stroke="#2a2a2a" stroke-width="0.6"/>
<circle cx="396.70" cy="181.36" r="1.45" fill="#a6a6a6" stroke="#1a1a1a" stroke-width="0.8"/>
<circle cx="396.70" cy="192.08" r="1.45" fill="#a6a6a6" stroke="#1a1a1a" stroke-width="0.8"/>
<line x1="402.90" x2="402.90" y1="200.04" y2="202.81" stroke="#8a8a8a" stroke-width="0.7"/>
<line x1="401.70" x2="404.10" y1="200.04" y2="200.04" stroke="#8a8a8a" stroke-width="0.7"/>
<rect x="401.15" y="203.06" width="3.5" height="0.44" fill="#fff" stroke="#2a2a2a" stroke-width="0.6"/>
<circle cx="402.90" cy="198.66" r="1.45" fill="#fff" stroke="#1a1a1a" stroke-width="0.8"/>
<circle cx="402.90" cy="202.81" r="1.45" fill="#fff" stroke="#1a1a1a" stroke-width="0.8"/>
<line x1="413.12" x2="413.12" y1="181.01" y2="193.47" stroke="#111" stroke-width="0.7"/>
<line x1="411.92" x2="414.32" y1="181.01" y2="181.01" stroke="#111" stroke-width="0.7"/>
<rect x="411.12" y="193.47" width="4.0" height="10.03" fill="#000"/>
<circle cx="413.12" cy="184.47" r="1.85" fill="#000"/>
<line x1="419.32" x2="419.32" y1="200.73" y2="201.42" stroke="#666" stroke-width="0.7"/>
<line x1="418.12" x2="420.52" y1="200.73" y2="200.73" stroke="#666" stroke-width="0.7"/>
<rect x="417.57" y="201.67" width="3.5" height="1.83" fill="#9a9a9a" stroke="#2a2a2a" stroke-width="0.6"/>
<circle cx="419.32" cy="201.08" r="1.45" fill="#a6a6a6" stroke="#1a1a1a" stroke-width="0.8"/>
<circle cx="425.52" cy="203.15" r="1.45" fill="#fff" stroke="#1a1a1a" stroke-width="0.8"/>
<line x1="435.74" x2="435.74" y1="196.93" y2="197.79" stroke="#111" stroke-width="0.7"/>
<line x1="434.54" x2="436.94" y1="196.93" y2="196.93" stroke="#111" stroke-width="0.7"/>
<rect x="433.74" y="197.79" width="4.0" height="5.71" fill="#000"/>
<circle cx="435.74" cy="198.31" r="1.85" fill="#000"/>
<line x1="441.94" x2="441.94" y1="192.77" y2="193.47" stroke="#666" stroke-width="0.7"/>
<line x1="440.74" x2="443.14" y1="192.77" y2="192.77" stroke="#666" stroke-width="0.7"/>
<rect x="440.19" y="193.72" width="3.5" height="9.78" fill="#9a9a9a" stroke="#2a2a2a" stroke-width="0.6"/>
<circle cx="441.94" cy="193.47" r="1.45" fill="#a6a6a6" stroke="#1a1a1a" stroke-width="0.8"/>
<circle cx="448.14" cy="202.81" r="1.45" fill="#fff" stroke="#1a1a1a" stroke-width="0.8"/>
<circle cx="393.4" cy="61.7" r="2.5" fill="#000"/>
<text x="402.6" y="64.9" font-size="9.15">B.1</text>
<circle cx="393.4" cy="71.9" r="2.0" fill="#8c8c8c" stroke="#5a5a5a" stroke-width="0.6"/>
<text x="402.6" y="75.1" font-size="9.15">B.1.617.2</text>
<circle cx="393.4" cy="82.1" r="2.0" fill="#fff" stroke="#444" stroke-width="0.6"/>
<text x="402.6" y="85.3" font-size="9.15">B.1.1.529</text>
<text transform="translate(13.6,310.9) scale(0.9,1)" font-size="21" font-weight="bold" fill="#000" id="lb">b</text>
<text x="63.5" y="310.8" font-size="12.2" id="tb">S1-specific IgG after 3<tspan font-size="6.9" dy="-3.8">rd</tspan><tspan dy="3.8"> vaccination</tspan></text>
<text transform="translate(78.5,335.8) scale(0.93,1)" font-size="8.7" id="pb">p<tspan font-size="5.6" dy="1.5">t</tspan><tspan dy="-1.5"> &lt; 0.0001</tspan></text>
<rect x="52.40" y="491.18" width="8.2" height="12.32" fill="#d9d9d9" stroke="#555" stroke-width="0.7"/>
<circle cx="56.50" cy="349.51" r="1.7" fill="#5e5e5e" stroke="#2e2e2e" stroke-width="0.6"/>
<circle cx="56.50" cy="466.29" r="1.7" fill="#5e5e5e" stroke="#2e2e2e" stroke-width="0.6"/>
<circle cx="56.50" cy="472.45" r="1.7" fill="#5e5e5e" stroke="#2e2e2e" stroke-width="0.6"/>
<circle cx="57.10" cy="481.17" r="1.7" fill="#5e5e5e" stroke="#2e2e2e" stroke-width="0.6"/>
<circle cx="55.70" cy="484.25" r="1.7" fill="#5e5e5e" stroke="#2e2e2e" stroke-width="0.6"/>
<circle cx="57.00" cy="487.33" r="1.7" fill="#5e5e5e" stroke="#2e2e2e" stroke-width="0.6"/>
<circle cx="54.10" cy="491.44" r="1.7" fill="#5e5e5e" stroke="#2e2e2e" stroke-width="0.6"/>
<circle cx="56.70" cy="491.18" r="1.7" fill="#5e5e5e" stroke="#2e2e2e" stroke-width="0.6"/>
<circle cx="59.10" cy="491.69" r="1.7" fill="#5e5e5e" stroke="#2e2e2e" stroke-width="0.6"/>
<circle cx="55.30" cy="493.75" r="1.7" fill="#5e5e5e" stroke="#2e2e2e" stroke-width="0.6"/>
<circle cx="58.00" cy="494.00" r="1.7" fill="#5e5e5e" stroke="#2e2e2e" stroke-width="0.6"/>
<circle cx="53.90" cy="495.80" r="1.7" fill="#5e5e5e" stroke="#2e2e2e" stroke-width="0.6"/>
<circle cx="56.80" cy="496.31" r="1.7" fill="#5e5e5e" stroke="#2e2e2e" stroke-width="0.6"/>
<circle cx="59.20" cy="496.57" r="1.7" fill="#5e5e5e" stroke="#2e2e2e" stroke-width="0.6"/>
<circle cx="55.20" cy="498.37" r="1.7" fill="#5e5e5e" stroke="#2e2e2e" stroke-width="0.6"/>
<circle cx="57.90" cy="498.62" r="1.7" fill="#5e5e5e" stroke="#2e2e2e" stroke-width="0.6"/>
<circle cx="54.00" cy="500.42" r="1.7" fill="#5e5e5e" stroke="#2e2e2e" stroke-width="0.6"/>
<circle cx="56.70" cy="500.68" r="1.7" fill="#5e5e5e" stroke="#2e2e2e" stroke-width="0.6"/>
<circle cx="59.10" cy="500.93" r="1.7" fill="#5e5e5e" stroke="#2e2e2e" stroke-width="0.6"/>
<circle cx="55.40" cy="502.37" r="1.7" fill="#5e5e5e" stroke="#2e2e2e" stroke-width="0.6"/>
<circle cx="58.00" cy="502.47" r="1.7" fill="#5e5e5e" stroke="#2e2e2e" stroke-width="0.6"/>
<line x1="68.50" x2="68.50" y1="349.51" y2="492.46" stroke="#7a7a7a" stroke-width="0.8"/>
<rect x="64.80" y="492.46" width="8.2" height="11.04" fill="#d9d9d9" stroke="#555" stroke-width="0.7"/>
<circle cx="67.20" cy="349.51" r="1.7" fill="#5e5e5e" stroke="#2e2e2e" stroke-width="0.6"/>
<circle cx="68.90" cy="349.51" r="1.7" fill="#5e5e5e" stroke="#2e2e2e" stroke-width="0.6"/>
<circle cx="70.60" cy="349.51" r="1.7" fill="#5e5e5e" stroke="#2e2e2e" stroke-width="0.6"/>
<circle cx="69.20" cy="478.60" r="1.7" fill="#5e5e5e" stroke="#2e2e2e" stroke-width="0.6"/>
<circle cx="69.50" cy="488.61" r="1.7" fill="#5e5e5e" stroke="#2e2e2e" stroke-width="0.6"/>
<circle cx="67.40" cy="493.75" r="1.7" fill="#5e5e5e" stroke="#2e2e2e" stroke-width="0.6"/>
<circle cx="70.50" cy="493.23" r="1.7" fill="#5e5e5e" stroke="#2e2e2e" stroke-width="0.6"/>
<circle cx="66.30" cy="497.60" r="1.7" fill="#5e5e5e" stroke="#2e2e2e" stroke-width="0.6"/>
<circle cx="69.10" cy="497.85" r="1.7" fill="#5e5e5e" stroke="#2e2e2e" stroke-width="0.6"/>
<circle cx="71.70" cy="498.88" r="1.7" fill="#5e5e5e" stroke="#2e2e2e" stroke-width="0.6"/>
<circle cx="67.70" cy="500.93" r="1.7" fill="#5e5e5e" stroke="#2e2e2e" stroke-width="0.6"/>
<rect x="77.20" y="349.51" width="8.2" height="153.99" fill="#d9d9d9" stroke="#555" stroke-width="0.7"/>
<circle cx="79.30" cy="349.51" r="1.7" fill="#5e5e5e" stroke="#2e2e2e" stroke-width="0.6"/>
<circle cx="81.30" cy="349.51" r="1.7" fill="#5e5e5e" stroke="#2e2e2e" stroke-width="0.6"/>
<circle cx="83.30" cy="349.51" r="1.7" fill="#5e5e5e" stroke="#2e2e2e" stroke-width="0.6"/>
<rect x="89.60" y="349.51" width="8.2" height="153.99" fill="#d9d9d9" stroke="#555" stroke-width="0.7"/>
<circle cx="91.70" cy="349.51" r="1.7" fill="#5e5e5e" stroke="#2e2e2e" stroke-width="0.6"/>
<circle cx="93.70" cy="349.51" r="1.7" fill="#5e5e5e" stroke="#2e2e2e" stroke-width="0.6"/>
<circle cx="95.70" cy="349.51" r="1.7" fill="#5e5e5e" stroke="#2e2e2e" stroke-width="0.6"/>
<rect x="102.00" y="349.51" width="8.2" height="153.99" fill="#d9d9d9" stroke="#555" stroke-width="0.7"/>
<circle cx="104.10" cy="349.51" r="1.7" fill="#5e5e5e" stroke="#2e2e2e" stroke-width="0.6"/>
<circle cx="106.10" cy="349.51" r="1.7" fill="#5e5e5e" stroke="#2e2e2e" stroke-width="0.6"/>
<circle cx="108.10" cy="349.51" r="1.7" fill="#5e5e5e" stroke="#2e2e2e" stroke-width="0.6"/>
<rect x="114.40" y="349.51" width="8.2" height="153.99" fill="#d9d9d9" stroke="#555" stroke-width="0.7"/>
<circle cx="116.50" cy="349.51" r="1.7" fill="#5e5e5e" stroke="#2e2e2e" stroke-width="0.6"/>
<circle cx="118.50" cy="349.51" r="1.7" fill="#5e5e5e" stroke="#2e2e2e" stroke-width="0.6"/>
<circle cx="120.50" cy="349.51" r="1.7" fill="#5e5e5e" stroke="#2e2e2e" stroke-width="0.6"/>
<rect x="126.80" y="349.51" width="8.2" height="153.99" fill="#d9d9d9" stroke="#555" stroke-width="0.7"/>
<circle cx="128.90" cy="349.51" r="1.7" fill="#5e5e5e" stroke="#2e2e2e" stroke-width="0.6"/>
<circle cx="130.90" cy="349.51" r="1.7" fill="#5e5e5e" stroke="#2e2e2e" stroke-width="0.6"/>
<circle cx="132.90" cy="349.51" r="1.7" fill="#5e5e5e" stroke="#2e2e2e" stroke-width="0.6"/>
<rect x="139.20" y="349.51" width="8.2" height="153.99" fill="#d9d9d9" stroke="#555" stroke-width="0.7"/>
<circle cx="141.30" cy="349.51" r="1.7" fill="#5e5e5e" stroke="#2e2e2e" stroke-width="0.6"/>
<circle cx="143.30" cy="349.51" r="1.7" fill="#5e5e5e" stroke="#2e2e2e" stroke-width="0.6"/>
<circle cx="145.30" cy="349.51" r="1.7" fill="#5e5e5e" stroke="#2e2e2e" stroke-width="0.6"/>
<rect x="151.60" y="349.51" width="8.2" height="153.99" fill="#d9d9d9" stroke="#555" stroke-width="0.7"/>
<circle cx="153.70" cy="349.51" r="1.7" fill="#5e5e5e" stroke="#2e2e2e" stroke-width="0.6"/>
<circle cx="155.70" cy="349.51" r="1.7" fill="#5e5e5e" stroke="#2e2e2e" stroke-width="0.6"/>
<circle cx="157.70" cy="349.51" r="1.7" fill="#5e5e5e" stroke="#2e2e2e" stroke-width="0.6"/>
<circle cx="155.70" cy="409.82" r="1.7" fill="#5e5e5e" stroke="#2e2e2e" stroke-width="0.6"/>
<rect x="164.00" y="349.51" width="8.2" height="153.99" fill="#d9d9d9" stroke="#555" stroke-width="0.7"/>
<circle cx="166.10" cy="349.51" r="1.7" fill="#5e5e5e" stroke="#2e2e2e" stroke-width="0.6"/>
<circle cx="168.10" cy="349.51" r="1.7" fill="#5e5e5e" stroke="#2e2e2e" stroke-width="0.6"/>
<circle cx="170.10" cy="349.51" r="1.7" fill="#5e5e5e" stroke="#2e2e2e" stroke-width="0.6"/>
<rect x="176.40" y="349.51" width="8.2" height="153.99" fill="#d9d9d9" stroke="#555" stroke-width="0.7"/>
<circle cx="178.50" cy="349.51" r="1.7" fill="#5e5e5e" stroke="#2e2e2e" stroke-width="0.6"/>
<circle cx="180.50" cy="349.51" r="1.7" fill="#5e5e5e" stroke="#2e2e2e" stroke-width="0.6"/>
<circle cx="182.50" cy="349.51" r="1.7" fill="#5e5e5e" stroke="#2e2e2e" stroke-width="0.6"/>
<circle cx="180.50" cy="489.38" r="1.7" fill="#5e5e5e" stroke="#2e2e2e" stroke-width="0.6"/>
<rect x="188.80" y="349.51" width="8.2" height="153.99" fill="#d9d9d9" stroke="#555" stroke-width="0.7"/>
<circle cx="190.90" cy="349.51" r="1.7" fill="#5e5e5e" stroke="#2e2e2e" stroke-width="0.6"/>
<circle cx="192.90" cy="349.51" r="1.7" fill="#5e5e5e" stroke="#2e2e2e" stroke-width="0.6"/>
<circle cx="194.90" cy="349.51" r="1.7" fill="#5e5e5e" stroke="#2e2e2e" stroke-width="0.6"/>
<rect x="201.20" y="349.51" width="8.2" height="153.99" fill="#d9d9d9" stroke="#555" stroke-width="0.7"/>
<circle cx="203.30" cy="349.51" r="1.7" fill="#5e5e5e" stroke="#2e2e2e" stroke-width="0.6"/>
<circle cx="205.30" cy="349.51" r="1.7" fill="#5e5e5e" stroke="#2e2e2e" stroke-width="0.6"/>
<circle cx="207.30" cy="349.51" r="1.7" fill="#5e5e5e" stroke="#2e2e2e" stroke-width="0.6"/>
<rect x="213.60" y="349.51" width="8.2" height="153.99" fill="#d9d9d9" stroke="#555" stroke-width="0.7"/>
<circle cx="215.70" cy="349.51" r="1.7" fill="#5e5e5e" stroke="#2e2e2e" stroke-width="0.6"/>
<circle cx="217.70" cy="349.51" r="1.7" fill="#5e5e5e" stroke="#2e2e2e" stroke-width="0.6"/>
<circle cx="219.70" cy="349.51" r="1.7" fill="#5e5e5e" stroke="#2e2e2e" stroke-width="0.6"/>
<line x1="230.50" x2="230.50" y1="349.51" y2="392.99" stroke="#7a7a7a" stroke-width="0.8"/>
<rect x="226.00" y="392.99" width="8.2" height="110.51" fill="#d9d9d9" stroke="#555" stroke-width="0.7"/>
<circle cx="228.10" cy="349.51" r="1.7" fill="#5e5e5e" stroke="#2e2e2e" stroke-width="0.6"/>
<circle cx="230.10" cy="349.51" r="1.7" fill="#5e5e5e" stroke="#2e2e2e" stroke-width="0.6"/>
<circle cx="232.10" cy="349.51" r="1.7" fill="#5e5e5e" stroke="#2e2e2e" stroke-width="0.6"/>
<circle cx="230.10" cy="437.28" r="1.7" fill="#5e5e5e" stroke="#2e2e2e" stroke-width="0.6"/>
<circle cx="230.10" cy="478.09" r="1.7" fill="#5e5e5e" stroke="#2e2e2e" stroke-width="0.6"/>
<circle cx="230.10" cy="492.21" r="1.7" fill="#5e5e5e" stroke="#2e2e2e" stroke-width="0.6"/>
<rect x="238.40" y="349.51" width="8.2" height="153.99" fill="#d9d9d9" stroke="#555" stroke-width="0.7"/>
<circle cx="240.50" cy="349.51" r="1.7" fill="#5e5e5e" stroke="#2e2e2e" stroke-width="0.6"/>
<circle cx="242.50" cy="349.51" r="1.7" fill="#5e5e5e" stroke="#2e2e2e" stroke-width="0.6"/>
<circle cx="244.50" cy="349.51" r="1.7" fill="#5e5e5e" stroke="#2e2e2e" stroke-width="0.6"/>
<line x1="254.50" x2="254.50" y1="349.51" y2="389.03" stroke="#7a7a7a" stroke-width="0.8"/>
<rect x="250.80" y="389.03" width="8.2" height="114.47" fill="#d9d9d9" stroke="#555" stroke-width="0.7"/>
<circle cx="254.90" cy="349.51" r="1.7" fill="#5e5e5e" stroke="#2e2e2e" stroke-width="0.6"/>
<circle cx="254.90" cy="428.04" r="1.7" fill="#5e5e5e" stroke="#2e2e2e" stroke-width="0.6"/>
<rect x="263.20" y="349.51" width="8.2" height="153.99" fill="#d9d9d9" stroke="#555" stroke-width="0.7"/>
<circle cx="264.50" cy="349.51" r="1.7" fill="#5e5e5e" stroke="#2e2e2e" stroke-width="0.6"/>
<circle cx="269.70" cy="349.51" r="1.7" fill="#5e5e5e" stroke="#2e2e2e" stroke-width="0.6"/>
<circle cx="267.30" cy="475.63" r="1.7" fill="#5e5e5e" stroke="#2e2e2e" stroke-width="0.6"/>
<rect x="275.60" y="349.51" width="8.2" height="153.99" fill="#d9d9d9" stroke="#555" stroke-width="0.7"/>
<circle cx="279.70" cy="349.51" r="1.7" fill="#5e5e5e" stroke="#2e2e2e" stroke-width="0.6"/>
<line x1="48.4" x2="48.4" y1="349.01" y2="504.0" stroke="#000" stroke-width="1.1"/>
<line x1="47.9" x2="288.4" y1="503.5" y2="503.5" stroke="#000" stroke-width="1.2"/>
<line x1="44.8" x2="48.4" y1="349.51" y2="349.51" stroke="#000" stroke-width="1"/>
<text x="39" y="351.81" font-size="9" text-anchor="end">3000</text>
<line x1="44.8" x2="48.4" y1="400.84" y2="400.84" stroke="#000" stroke-width="1"/>
<text x="39" y="403.14" font-size="9" text-anchor="end">2000</text>
<line x1="44.8" x2="48.4" y1="452.17" y2="452.17" stroke="#000" stroke-width="1"/>
<text x="39" y="454.47" font-size="9" text-anchor="end">1000</text>
<line x1="44.8" x2="48.4" y1="503.50" y2="503.50" stroke="#000" stroke-width="1"/>
<text x="39" y="505.80" font-size="9" text-anchor="end">0</text>
<line x1="46.3" x2="48.4" y1="375.18" y2="375.18" stroke="#000" stroke-width="1"/>
<line x1="46.3" x2="48.4" y1="426.50" y2="426.50" stroke="#000" stroke-width="1"/>
<line x1="46.3" x2="48.4" y1="477.83" y2="477.83" stroke="#000" stroke-width="1"/>
<text transform="translate(13.2,411.4) rotate(-90)" font-size="9" text-anchor="middle" id="yb">BAU / mL</text>
<line x1="56.50" x2="56.50" y1="503.5" y2="507.5" stroke="#000" stroke-width="1"/>
<text transform="translate(60.70,514.70) rotate(-45)" font-size="9.1" text-anchor="end">0</text>
<line x1="68.90" x2="68.90" y1="503.5" y2="507.5" stroke="#000" stroke-width="1"/>
<text transform="translate(73.10,514.70) rotate(-45)" font-size="9.1" text-anchor="end">1-5</text>
<line x1="81.30" x2="81.30" y1="503.5" y2="507.5" stroke="#000" stroke-width="1"/>
<text transform="translate(85.50,514.70) rotate(-45)" font-size="9.1" text-anchor="end">6-10</text>
<line x1="93.70" x2="93.70" y1="503.5" y2="507.5" stroke="#000" stroke-width="1"/>
<text transform="translate(97.90,514.70) rotate(-45)" font-size="9.1" text-anchor="end">11-15</text>
<line x1="106.10" x2="106.10" y1="503.5" y2="507.5" stroke="#000" stroke-width="1"/>
<text transform="translate(110.30,514.70) rotate(-45)" font-size="9.1" text-anchor="end">16-20</text>
<line x1="118.50" x2="118.50" y1="503.5" y2="507.5" stroke="#000" stroke-width="1"/>
<text transform="translate(122.70,514.70) rotate(-45)" font-size="9.1" text-anchor="end">21-25</text>
<line x1="130.90" x2="130.90" y1="503.5" y2="507.5" stroke="#000" stroke-width="1"/>
<text transform="translate(135.10,514.70) rotate(-45)" font-size="9.1" text-anchor="end">26-30</text>
<line x1="143.30" x2="143.30" y1="503.5" y2="507.5" stroke="#000" stroke-width="1"/>
<text transform="translate(147.50,514.70) rotate(-45)" font-size="9.1" text-anchor="end">31-40</text>
<line x1="155.70" x2="155.70" y1="503.5" y2="507.5" stroke="#000" stroke-width="1"/>
<text transform="translate(159.90,514.70) rotate(-45)" font-size="9.1" text-anchor="end">41-45</text>
<line x1="168.10" x2="168.10" y1="503.5" y2="507.5" stroke="#000" stroke-width="1"/>
<text transform="translate(172.30,514.70) rotate(-45)" font-size="9.1" text-anchor="end">46-50</text>
<line x1="180.50" x2="180.50" y1="503.5" y2="507.5" stroke="#000" stroke-width="1"/>
<text transform="translate(184.70,514.70) rotate(-45)" font-size="9.1" text-anchor="end">51-60</text>
<line x1="192.90" x2="192.90" y1="503.5" y2="507.5" stroke="#000" stroke-width="1"/>
<text transform="translate(197.10,514.70) rotate(-45)" font-size="9.1" text-anchor="end">61-70</text>
<line x1="205.30" x2="205.30" y1="503.5" y2="507.5" stroke="#000" stroke-width="1"/>
<text transform="translate(209.50,514.70) rotate(-45)" font-size="9.1" text-anchor="end">71-80</text>
<line x1="217.70" x2="217.70" y1="503.5" y2="507.5" stroke="#000" stroke-width="1"/>
<text transform="translate(221.90,514.70) rotate(-45)" font-size="9.1" text-anchor="end">81-90</text>
<line x1="230.10" x2="230.10" y1="503.5" y2="507.5" stroke="#000" stroke-width="1"/>
<text transform="translate(234.30,514.70) rotate(-45)" font-size="9.1" text-anchor="end">91-100</text>
<line x1="242.50" x2="242.50" y1="503.5" y2="507.5" stroke="#000" stroke-width="1"/>
<text transform="translate(246.70,514.70) rotate(-45)" font-size="9.1" text-anchor="end">101-110</text>
<line x1="254.90" x2="254.90" y1="503.5" y2="507.5" stroke="#000" stroke-width="1"/>
<text transform="translate(259.10,514.70) rotate(-45)" font-size="9.1" text-anchor="end">111-120</text>
<line x1="267.30" x2="267.30" y1="503.5" y2="507.5" stroke="#000" stroke-width="1"/>
<text transform="translate(271.50,514.70) rotate(-45)" font-size="9.1" text-anchor="end">131-140</text>
<line x1="279.70" x2="279.70" y1="503.5" y2="507.5" stroke="#000" stroke-width="1"/>
<text transform="translate(283.90,514.70) rotate(-45)" font-size="9.1" text-anchor="end">161-170</text>
<text x="118" y="548.5" font-size="9.15" id="xb">days post 3<tspan font-size="5.5" dy="-3">rd</tspan><tspan dy="3"> vaccination</tspan></text>
<text transform="translate(317.4,311.4) scale(0.9,1)" font-size="21" font-weight="bold" fill="#000" id="lc">c</text>
<text x="383.6" y="311.5" font-size="12.2" id="tc">Effector response 4<tspan font-size="6.9" dy="-3.8">th</tspan><tspan dy="3.8"> vaccination</tspan></text>
<line x1="351.2" x2="351.2" y1="349.4" y2="504.1" stroke="#000" stroke-width="1.1"/>
<line x1="350.7" x2="428.7" y1="503.6" y2="503.6" stroke="#000" stroke-width="1.1"/>
<line x1="347.8" x2="351.2" y1="349.90" y2="349.90" stroke="#000" stroke-width="1"/>
<text x="344.2" y="352.70" font-size="9" text-anchor="end">5000</text>
<line x1="347.8" x2="351.2" y1="426.75" y2="426.75" stroke="#000" stroke-width="1"/>
<text x="344.2" y="429.15" font-size="9" text-anchor="end">2500</text>
<line x1="347.8" x2="351.2" y1="503.60" y2="503.60" stroke="#000" stroke-width="1"/>
<text x="344.2" y="505.60" font-size="9" text-anchor="end">0</text>
<line x1="349.4" x2="351.2" y1="388.32" y2="388.32" stroke="#000" stroke-width="1"/>
<line x1="349.4" x2="351.2" y1="465.18" y2="465.18" stroke="#000" stroke-width="1"/>
<line x1="352.90" x2="352.90" y1="503.6" y2="507.6" stroke="#000" stroke-width="1"/>
<text transform="translate(357.20,512.80) rotate(-50)" font-size="9.2" text-anchor="end">0</text>
<line x1="375.75" x2="375.75" y1="503.6" y2="507.6" stroke="#000" stroke-width="1"/>
<text transform="translate(380.05,512.80) rotate(-50)" font-size="9.2" text-anchor="end">30</text>
<line x1="398.60" x2="398.60" y1="503.6" y2="507.6" stroke="#000" stroke-width="1"/>
<text transform="translate(402.90,512.80) rotate(-50)" font-size="9.2" text-anchor="end">60</text>
<line x1="421.45" x2="421.45" y1="503.6" y2="507.6" stroke="#000" stroke-width="1"/>
<text transform="translate(425.75,512.80) rotate(-50)" font-size="9.2" text-anchor="end">90</text>
<line x1="428.2" x2="428.2" y1="349.4" y2="504.1" stroke="#000" stroke-width="1.1"/>
<line x1="428.2" x2="431.09999999999997" y1="503.60" y2="503.60" stroke="#000" stroke-width="1"/>
<text x="435.8" y="505.52" font-size="9.1">10<tspan font-size="6.2" dy="-3.1">-6</tspan></text>
<line x1="428.2" x2="430.0" y1="493.73" y2="493.73" stroke="#000" stroke-width="0.7"/>
<line x1="428.2" x2="430.0" y1="487.96" y2="487.96" stroke="#000" stroke-width="0.7"/>
<line x1="428.2" x2="430.0" y1="483.86" y2="483.86" stroke="#000" stroke-width="0.7"/>
<line x1="428.2" x2="430.0" y1="480.69" y2="480.69" stroke="#000" stroke-width="0.7"/>
<line x1="428.2" x2="430.0" y1="478.09" y2="478.09" stroke="#000" stroke-width="0.7"/>
<line x1="428.2" x2="430.0" y1="475.90" y2="475.90" stroke="#000" stroke-width="0.7"/>
<line x1="428.2" x2="430.0" y1="474.00" y2="474.00" stroke="#000" stroke-width="0.7"/>
<line x1="428.2" x2="430.0" y1="472.32" y2="472.32" stroke="#000" stroke-width="0.7"/>
<line x1="428.2" x2="431.09999999999997" y1="470.82" y2="470.82" stroke="#000" stroke-width="1"/>
<text x="435.8" y="473.49" font-size="9.1">10<tspan font-size="6.2" dy="-3.1">-5</tspan></text>
<line x1="428.2" x2="430.0" y1="460.95" y2="460.95" stroke="#000" stroke-width="0.7"/>
<line x1="428.2" x2="430.0" y1="455.18" y2="455.18" stroke="#000" stroke-width="0.7"/>
<line x1="428.2" x2="430.0" y1="451.08" y2="451.08" stroke="#000" stroke-width="0.7"/>
<line x1="428.2" x2="430.0" y1="447.91" y2="447.91" stroke="#000" stroke-width="0.7"/>
<line x1="428.2" x2="430.0" y1="445.31" y2="445.31" stroke="#000" stroke-width="0.7"/>
<line x1="428.2" x2="430.0" y1="443.12" y2="443.12" stroke="#000" stroke-width="0.7"/>
<line x1="428.2" x2="430.0" y1="441.22" y2="441.22" stroke="#000" stroke-width="0.7"/>
<line x1="428.2" x2="430.0" y1="439.54" y2="439.54" stroke="#000" stroke-width="0.7"/>
<line x1="428.2" x2="431.09999999999997" y1="438.04" y2="438.04" stroke="#000" stroke-width="1"/>
<text x="435.8" y="441.46" font-size="9.1">10<tspan font-size="6.2" dy="-3.1">-4</tspan></text>
<line x1="428.2" x2="430.0" y1="428.17" y2="428.17" stroke="#000" stroke-width="0.7"/>
<line x1="428.2" x2="430.0" y1="422.40" y2="422.40" stroke="#000" stroke-width="0.7"/>
<line x1="428.2" x2="430.0" y1="418.30" y2="418.30" stroke="#000" stroke-width="0.7"/>
<line x1="428.2" x2="430.0" y1="415.13" y2="415.13" stroke="#000" stroke-width="0.7"/>
<line x1="428.2" x2="430.0" y1="412.53" y2="412.53" stroke="#000" stroke-width="0.7"/>
<line x1="428.2" x2="430.0" y1="410.34" y2="410.34" stroke="#000" stroke-width="0.7"/>
<line x1="428.2" x2="430.0" y1="408.44" y2="408.44" stroke="#000" stroke-width="0.7"/>
<line x1="428.2" x2="430.0" y1="406.76" y2="406.76" stroke="#000" stroke-width="0.7"/>
<line x1="428.2" x2="431.09999999999997" y1="405.26" y2="405.26" stroke="#000" stroke-width="1"/>
<text x="435.8" y="409.43" font-size="9.1">10<tspan font-size="6.2" dy="-3.1">-3</tspan></text>
<line x1="428.2" x2="430.0" y1="395.39" y2="395.39" stroke="#000" stroke-width="0.7"/>
<line x1="428.2" x2="430.0" y1="389.62" y2="389.62" stroke="#000" stroke-width="0.7"/>
<line x1="428.2" x2="430.0" y1="385.52" y2="385.52" stroke="#000" stroke-width="0.7"/>
<line x1="428.2" x2="430.0" y1="382.35" y2="382.35" stroke="#000" stroke-width="0.7"/>
<line x1="428.2" x2="430.0" y1="379.75" y2="379.75" stroke="#000" stroke-width="0.7"/>
<line x1="428.2" x2="430.0" y1="377.56" y2="377.56" stroke="#000" stroke-width="0.7"/>
<line x1="428.2" x2="430.0" y1="375.66" y2="375.66" stroke="#000" stroke-width="0.7"/>
<line x1="428.2" x2="430.0" y1="373.98" y2="373.98" stroke="#000" stroke-width="0.7"/>
<line x1="428.2" x2="431.09999999999997" y1="372.48" y2="372.48" stroke="#000" stroke-width="1"/>
<text x="435.8" y="377.40" font-size="9.1">10<tspan font-size="6.2" dy="-3.1">-2</tspan></text>
<line x1="428.2" x2="430.0" y1="362.61" y2="362.61" stroke="#000" stroke-width="0.7"/>
<line x1="428.2" x2="430.0" y1="356.84" y2="356.84" stroke="#000" stroke-width="0.7"/>
<line x1="428.2" x2="430.0" y1="352.74" y2="352.74" stroke="#000" stroke-width="0.7"/>
<line x1="428.2" x2="430.0" y1="349.57" y2="349.57" stroke="#000" stroke-width="0.7"/>
<text x="393" y="343.6" font-size="9.2" text-anchor="middle" id="s1">A*01/S<tspan font-size="6" dy="1.5">865</tspan></text>
<text transform="translate(313.5,425.4) rotate(-90)" font-size="9" text-anchor="middle" id="yc">PRNT50</text>
<text x="386.3" y="529" font-size="9" text-anchor="middle">days</text>
<polyline fill="none" stroke="#333" stroke-width="0.6" points="352.9,498.0 358.4,494.0 363.6,494.0 369.3,496.4 374.5,490.4"/>
<path d="M350.8,498.0L352.9,495.9L355.0,498.0L352.9,500.1Z" fill="#fff" stroke="#333" stroke-width="0.6"/>
<path d="M356.2,494.0L358.4,491.9L360.5,494.0L358.4,496.1Z" fill="#fff" stroke="#333" stroke-width="0.6"/>
<path d="M361.5,494.0L363.6,491.9L365.8,494.0L363.6,496.1Z" fill="#fff" stroke="#333" stroke-width="0.6"/>
<path d="M367.2,496.4L369.3,494.2L371.4,496.4L369.3,498.5Z" fill="#fff" stroke="#333" stroke-width="0.6"/>
<path d="M372.4,490.4L374.5,488.2L376.6,490.4L374.5,492.5Z" fill="#fff" stroke="#333" stroke-width="0.6"/>
<polyline fill="none" stroke="#333" stroke-width="0.6" points="352.9,483.6 358.4,463.8 363.6,459.2 369.3,465.8 374.5,454.8"/>
<path d="M350.8,483.6L352.9,481.5L355.0,483.6L352.9,485.8Z" fill="#888" stroke="#333" stroke-width="0.6"/>
<path d="M356.2,463.8L358.4,461.7L360.5,463.8L358.4,465.9Z" fill="#888" stroke="#333" stroke-width="0.6"/>
<path d="M361.5,459.2L363.6,457.1L365.8,459.2L363.6,461.3Z" fill="#888" stroke="#333" stroke-width="0.6"/>
<path d="M367.2,465.8L369.3,463.7L371.4,465.8L369.3,467.9Z" fill="#888" stroke="#333" stroke-width="0.6"/>
<path d="M372.4,454.8L374.5,452.7L376.6,454.8L374.5,456.9Z" fill="#888" stroke="#333" stroke-width="0.6"/>
<polyline fill="none" stroke="#222" stroke-width="0.6" points="352.9,497.3 358.4,409.6 363.6,377.9 369.4,377.9 375.1,377.9"/>
<circle cx="352.9" cy="497.3" r="1.9" fill="#000" stroke="#000" stroke-width="0.6"/>
<path d="M361.5,377.9L363.6,375.8L365.8,377.9L363.6,380.0Z" fill="#000" stroke="#000" stroke-width="0.6"/>
<path d="M367.2,377.9L369.4,375.8L371.5,377.9L369.4,380.0Z" fill="#000" stroke="#000" stroke-width="0.6"/>
<path d="M373.0,377.9L375.1,375.8L377.2,377.9L375.1,380.0Z" fill="#000" stroke="#000" stroke-width="0.6"/>
<path d="M356.1,411.3L358.2,409.2L360.3,411.3L358.2,413.4Z" fill="#000" stroke="#000" stroke-width="0.6"/>
<polyline fill="none" stroke="#333" stroke-width="0.6" points="357.5,452.9 364.4,448.8"/>
<polyline fill="none" stroke="#333" stroke-width="0.6" points="352.9,444.4 358.4,409.6 363.6,424.7 369.3,436.4 374.5,441.6 422.5,431.5"/>
<circle cx="357.5" cy="452.9" r="2.35" fill="#a9c9ee" stroke="#333" stroke-width="0.6"/>
<circle cx="364.4" cy="448.8" r="2.35" fill="#a9c9ee" stroke="#333" stroke-width="0.6"/>
<circle cx="352.9" cy="444.4" r="2.35" fill="#a9c9ee" stroke="#333" stroke-width="0.6"/>
<circle cx="358.4" cy="409.6" r="2.35" fill="#a9c9ee" stroke="#333" stroke-width="0.6"/>
<circle cx="363.6" cy="424.7" r="2.35" fill="#a9c9ee" stroke="#333" stroke-width="0.6"/>
<circle cx="369.3" cy="436.4" r="2.35" fill="#a9c9ee" stroke="#333" stroke-width="0.6"/>
<circle cx="374.5" cy="441.6" r="2.35" fill="#a9c9ee" stroke="#333" stroke-width="0.6"/>
<circle cx="422.5" cy="431.5" r="2.35" fill="#a9c9ee" stroke="#333" stroke-width="0.6"/>
<line x1="498.2" x2="498.2" y1="349.4" y2="504.1" stroke="#000" stroke-width="1.1"/>
<line x1="497.7" x2="576.1" y1="503.6" y2="503.6" stroke="#000" stroke-width="1.1"/>
<line x1="494.8" x2="498.2" y1="349.90" y2="349.90" stroke="#000" stroke-width="1"/>
<text x="490.2" y="352.70" font-size="9" text-anchor="end">5000</text>
<line x1="494.8" x2="498.2" y1="426.75" y2="426.75" stroke="#000" stroke-width="1"/>
<text x="490.2" y="429.15" font-size="9" text-anchor="end">2500</text>
<line x1="494.8" x2="498.2" y1="503.60" y2="503.60" stroke="#000" stroke-width="1"/>
<text x="490.2" y="505.60" font-size="9" text-anchor="end">0</text>
<line x1="496.4" x2="498.2" y1="388.32" y2="388.32" stroke="#000" stroke-width="1"/>
<line x1="496.4" x2="498.2" y1="465.18" y2="465.18" stroke="#000" stroke-width="1"/>
<line x1="500.50" x2="500.50" y1="503.6" y2="507.6" stroke="#000" stroke-width="1"/>
<text transform="translate(504.80,512.80) rotate(-50)" font-size="9.2" text-anchor="end">0</text>
<line x1="523.53" x2="523.53" y1="503.6" y2="507.6" stroke="#000" stroke-width="1"/>
<text transform="translate(527.83,512.80) rotate(-50)" font-size="9.2" text-anchor="end">30</text>
<line x1="546.56" x2="546.56" y1="503.6" y2="507.6" stroke="#000" stroke-width="1"/>
<text transform="translate(550.86,512.80) rotate(-50)" font-size="9.2" text-anchor="end">60</text>
<line x1="569.59" x2="569.59" y1="503.6" y2="507.6" stroke="#000" stroke-width="1"/>
<text transform="translate(573.89,512.80) rotate(-50)" font-size="9.2" text-anchor="end">90</text>
<line x1="575.6" x2="575.6" y1="349.4" y2="504.1" stroke="#000" stroke-width="1.1"/>
<line x1="575.6" x2="578.5" y1="503.60" y2="503.60" stroke="#000" stroke-width="1"/>
<text x="584.7" y="505.52" font-size="9.1">10<tspan font-size="6.2" dy="-3.1">-6</tspan></text>
<line x1="575.6" x2="577.4" y1="493.73" y2="493.73" stroke="#000" stroke-width="0.7"/>
<line x1="575.6" x2="577.4" y1="487.96" y2="487.96" stroke="#000" stroke-width="0.7"/>
<line x1="575.6" x2="577.4" y1="483.86" y2="483.86" stroke="#000" stroke-width="0.7"/>
<line x1="575.6" x2="577.4" y1="480.69" y2="480.69" stroke="#000" stroke-width="0.7"/>
<line x1="575.6" x2="577.4" y1="478.09" y2="478.09" stroke="#000" stroke-width="0.7"/>
<line x1="575.6" x2="577.4" y1="475.90" y2="475.90" stroke="#000" stroke-width="0.7"/>
<line x1="575.6" x2="577.4" y1="474.00" y2="474.00" stroke="#000" stroke-width="0.7"/>
<line x1="575.6" x2="577.4" y1="472.32" y2="472.32" stroke="#000" stroke-width="0.7"/>
<line x1="575.6" x2="578.5" y1="470.82" y2="470.82" stroke="#000" stroke-width="1"/>
<text x="584.7" y="473.49" font-size="9.1">10<tspan font-size="6.2" dy="-3.1">-5</tspan></text>
<line x1="575.6" x2="577.4" y1="460.95" y2="460.95" stroke="#000" stroke-width="0.7"/>
<line x1="575.6" x2="577.4" y1="455.18" y2="455.18" stroke="#000" stroke-width="0.7"/>
<line x1="575.6" x2="577.4" y1="451.08" y2="451.08" stroke="#000" stroke-width="0.7"/>
<line x1="575.6" x2="577.4" y1="447.91" y2="447.91" stroke="#000" stroke-width="0.7"/>
<line x1="575.6" x2="577.4" y1="445.31" y2="445.31" stroke="#000" stroke-width="0.7"/>
<line x1="575.6" x2="577.4" y1="443.12" y2="443.12" stroke="#000" stroke-width="0.7"/>
<line x1="575.6" x2="577.4" y1="441.22" y2="441.22" stroke="#000" stroke-width="0.7"/>
<line x1="575.6" x2="577.4" y1="439.54" y2="439.54" stroke="#000" stroke-width="0.7"/>
<line x1="575.6" x2="578.5" y1="438.04" y2="438.04" stroke="#000" stroke-width="1"/>
<text x="584.7" y="441.46" font-size="9.1">10<tspan font-size="6.2" dy="-3.1">-4</tspan></text>
<line x1="575.6" x2="577.4" y1="428.17" y2="428.17" stroke="#000" stroke-width="0.7"/>
<line x1="575.6" x2="577.4" y1="422.40" y2="422.40" stroke="#000" stroke-width="0.7"/>
<line x1="575.6" x2="577.4" y1="418.30" y2="418.30" stroke="#000" stroke-width="0.7"/>
<line x1="575.6" x2="577.4" y1="415.13" y2="415.13" stroke="#000" stroke-width="0.7"/>
<line x1="575.6" x2="577.4" y1="412.53" y2="412.53" stroke="#000" stroke-width="0.7"/>
<line x1="575.6" x2="577.4" y1="410.34" y2="410.34" stroke="#000" stroke-width="0.7"/>
<line x1="575.6" x2="577.4" y1="408.44" y2="408.44" stroke="#000" stroke-width="0.7"/>
<line x1="575.6" x2="577.4" y1="406.76" y2="406.76" stroke="#000" stroke-width="0.7"/>
<line x1="575.6" x2="578.5" y1="405.26" y2="405.26" stroke="#000" stroke-width="1"/>
<text x="584.7" y="409.43" font-size="9.1">10<tspan font-size="6.2" dy="-3.1">-3</tspan></text>
<line x1="575.6" x2="577.4" y1="395.39" y2="395.39" stroke="#000" stroke-width="0.7"/>
<line x1="575.6" x2="577.4" y1="389.62" y2="389.62" stroke="#000" stroke-width="0.7"/>
<line x1="575.6" x2="577.4" y1="385.52" y2="385.52" stroke="#000" stroke-width="0.7"/>
<line x1="575.6" x2="577.4" y1="382.35" y2="382.35" stroke="#000" stroke-width="0.7"/>
<line x1="575.6" x2="577.4" y1="379.75" y2="379.75" stroke="#000" stroke-width="0.7"/>
<line x1="575.6" x2="577.4" y1="377.56" y2="377.56" stroke="#000" stroke-width="0.7"/>
<line x1="575.6" x2="577.4" y1="375.66" y2="375.66" stroke="#000" stroke-width="0.7"/>
<line x1="575.6" x2="577.4" y1="373.98" y2="373.98" stroke="#000" stroke-width="0.7"/>
<line x1="575.6" x2="578.5" y1="372.48" y2="372.48" stroke="#000" stroke-width="1"/>
<text x="584.7" y="377.40" font-size="9.1">10<tspan font-size="6.2" dy="-3.1">-2</tspan></text>
<line x1="575.6" x2="577.4" y1="362.61" y2="362.61" stroke="#000" stroke-width="0.7"/>
<line x1="575.6" x2="577.4" y1="356.84" y2="356.84" stroke="#000" stroke-width="0.7"/>
<line x1="575.6" x2="577.4" y1="352.74" y2="352.74" stroke="#000" stroke-width="0.7"/>
<line x1="575.6" x2="577.4" y1="349.57" y2="349.57" stroke="#000" stroke-width="0.7"/>
<text x="538" y="343.6" font-size="9.2" text-anchor="middle" id="s2">A*02/S<tspan font-size="6" dy="1.5">269</tspan></text>
<text x="533" y="529" font-size="9" text-anchor="middle">days</text>
<polyline fill="none" stroke="#333" stroke-width="0.6" points="500.5,499.2 507.1,493.2 513.4,499.2 524.9,496.4 535.6,495.9 550.1,501.4"/>
<path d="M498.4,499.2L500.5,497.1L502.6,499.2L500.5,501.3Z" fill="#fff" stroke="#333" stroke-width="0.6"/>
<path d="M505.0,493.2L507.1,491.1L509.2,493.2L507.1,495.3Z" fill="#fff" stroke="#333" stroke-width="0.6"/>
<path d="M511.2,499.2L513.4,497.1L515.5,499.2L513.4,501.3Z" fill="#fff" stroke="#333" stroke-width="0.6"/>
<path d="M522.8,496.4L524.9,494.2L527.0,496.4L524.9,498.5Z" fill="#fff" stroke="#333" stroke-width="0.6"/>
<path d="M533.5,495.9L535.6,493.8L537.8,495.9L535.6,498.0Z" fill="#fff" stroke="#333" stroke-width="0.6"/>
<path d="M548.0,501.4L550.1,499.2L552.2,501.4L550.1,503.5Z" fill="#fff" stroke="#333" stroke-width="0.6"/>
<polyline fill="none" stroke="#333" stroke-width="0.6" points="500.5,487.7 507.1,490.1 513.4,481.4 524.9,470.4 535.6,468.8 550.1,477.0"/>
<path d="M498.4,487.7L500.5,485.6L502.6,487.7L500.5,489.8Z" fill="#888" stroke="#333" stroke-width="0.6"/>
<path d="M505.0,490.1L507.1,488.0L509.2,490.1L507.1,492.2Z" fill="#888" stroke="#333" stroke-width="0.6"/>
<path d="M511.2,481.4L513.4,479.2L515.5,481.4L513.4,483.5Z" fill="#888" stroke="#333" stroke-width="0.6"/>
<path d="M522.8,470.4L524.9,468.2L527.0,470.4L524.9,472.5Z" fill="#888" stroke="#333" stroke-width="0.6"/>
<path d="M533.5,468.8L535.6,466.7L537.8,468.8L535.6,470.9Z" fill="#888" stroke="#333" stroke-width="0.6"/>
<path d="M548.0,477.0L550.1,474.9L552.2,477.0L550.1,479.1Z" fill="#888" stroke="#333" stroke-width="0.6"/>
<polyline fill="none" stroke="#222" stroke-width="0.6" points="500.5,475.3 507.1,477.3 513.4,479.5 524.9,474.5 535.6,483.0 550.1,477.0"/>
<path d="M498.4,475.3L500.5,473.2L502.6,475.3L500.5,477.4Z" fill="#000" stroke="#000" stroke-width="0.6"/>
<path d="M505.0,477.3L507.1,475.2L509.2,477.3L507.1,479.4Z" fill="#000" stroke="#000" stroke-width="0.6"/>
<circle cx="513.4" cy="479.5" r="1.9" fill="#000" stroke="#000" stroke-width="0.6"/>
<path d="M522.8,474.5L524.9,472.4L527.0,474.5L524.9,476.6Z" fill="#000" stroke="#000" stroke-width="0.6"/>
<path d="M533.5,483.0L535.6,480.9L537.8,483.0L535.6,485.1Z" fill="#000" stroke="#000" stroke-width="0.6"/>
<path d="M548.0,477.0L550.1,474.9L552.2,477.0L550.1,479.1Z" fill="#000" stroke="#000" stroke-width="0.6"/>
<polyline fill="none" stroke="#333" stroke-width="0.6" points="507.1,400.8 513.4,405.5 524.9,408.8 535.6,411.0 550.1,420.0"/>
<polyline fill="none" stroke="#333" stroke-width="0.6" points="508.8,410.4 520.0,414.2"/>
<circle cx="507.1" cy="400.8" r="2.15" fill="#2a7a2a" stroke="#1c4d1c" stroke-width="0.6"/>
<circle cx="513.4" cy="405.5" r="2.15" fill="#2a7a2a" stroke="#1c4d1c" stroke-width="0.6"/>
<circle cx="524.9" cy="408.8" r="2.15" fill="#2a7a2a" stroke="#1c4d1c" stroke-width="0.6"/>
<circle cx="535.6" cy="411.0" r="2.15" fill="#2a7a2a" stroke="#1c4d1c" stroke-width="0.6"/>
<circle cx="550.1" cy="420.0" r="2.15" fill="#2a7a2a" stroke="#1c4d1c" stroke-width="0.6"/>
<circle cx="508.8" cy="410.4" r="2.15" fill="#2a7a2a" stroke="#1c4d1c" stroke-width="0.6"/>
<circle cx="520.0" cy="414.2" r="2.15" fill="#2a7a2a" stroke="#1c4d1c" stroke-width="0.6"/>
<circle cx="520.0" cy="439.7" r="2.15" fill="#2a7a2a" stroke="#1c4d1c" stroke-width="0.6"/>
<text transform="translate(620,369.8) rotate(90)" font-size="9.2" id="f1">Frequency spike-specific</text>
<text transform="translate(609,394) rotate(90)" font-size="9.3" id="f2">CD8<tspan font-size="5.5" dy="-3">+</tspan><tspan dy="3"> T cells</tspan></text>
<line x1="632.5" x2="642.3" y1="328.8" y2="328.8" stroke="#333" stroke-width="0.6"/>
<circle cx="637.4" cy="328.8" r="2.5" fill="#a9c9ee" stroke="#333" stroke-width="0.6"/>
<text x="646.6" y="332.0" font-size="9.2">A*01/S<tspan font-size="6.2" dy="1.5">865</tspan></text>
<line x1="632.5" x2="642.3" y1="339.1" y2="339.1" stroke="#333" stroke-width="0.6"/>
<circle cx="637.4" cy="339.1" r="2.5" fill="#2a7a2a" stroke="#1c4d1c" stroke-width="0.6"/>
<text x="646.6" y="342.3" font-size="9.2">A*02/S<tspan font-size="6.2" dy="1.5">269</tspan></text>
<line x1="632.5" x2="642.3" y1="349.4" y2="349.4" stroke="#333" stroke-width="0.6"/>
<path d="M634.5,349.4L637.4,346.5L640.3,349.4L637.4,352.3Z" fill="#000" stroke="#000" stroke-width="0.6"/>
<text x="646.6" y="352.6" font-size="9.2">B.1</text>
<line x1="632.5" x2="642.3" y1="359.7" y2="359.7" stroke="#333" stroke-width="0.6"/>
<path d="M634.5,359.7L637.4,356.8L640.3,359.7L637.4,362.6Z" fill="#888" stroke="#333" stroke-width="0.6"/>
<text x="646.6" y="362.9" font-size="9.2">B.1.617.2</text>
<line x1="632.5" x2="642.3" y1="370" y2="370" stroke="#333" stroke-width="0.6"/>
<path d="M634.5,370.0L637.4,367.1L640.3,370.0L637.4,372.9Z" fill="#fff" stroke="#333" stroke-width="0.6"/>
<text x="646.6" y="373.2" font-size="9.2">B.1.1.529</text>
</svg>
</body></html>
